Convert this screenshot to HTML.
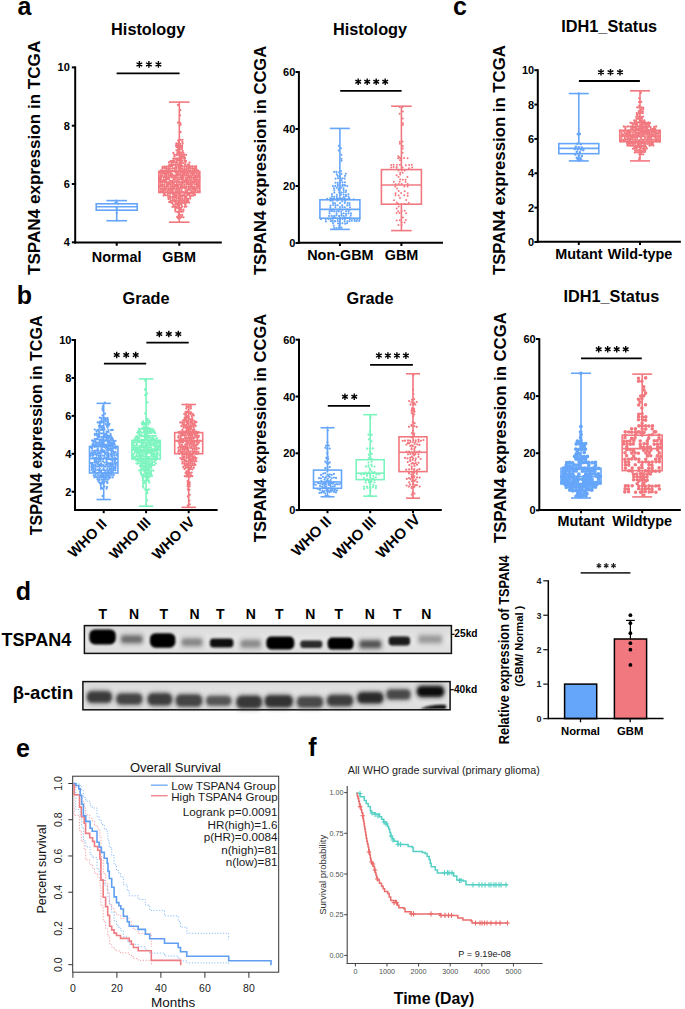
<!DOCTYPE html><html><head><meta charset="utf-8"><style>html,body{margin:0;padding:0;background:#fff;overflow:hidden}svg{display:block}</style></head><body><svg width="685" height="1009" viewBox="0 0 685 1009"><text x="24.5" y="15.0" font-family="Liberation Sans, sans-serif" font-weight="bold" font-size="25" text-anchor="middle" fill="#000" >a</text>
<text x="460.0" y="15.0" font-family="Liberation Sans, sans-serif" font-weight="bold" font-size="25" text-anchor="middle" fill="#000" >c</text>
<text x="24.5" y="303.5" font-family="Liberation Sans, sans-serif" font-weight="bold" font-size="25" text-anchor="middle" fill="#000" >b</text>
<text x="23.5" y="600.0" font-family="Liberation Sans, sans-serif" font-weight="bold" font-size="25" text-anchor="middle" fill="#000" >d</text>
<text x="23.0" y="757.0" font-family="Liberation Sans, sans-serif" font-weight="bold" font-size="25" text-anchor="middle" fill="#000" >e</text>
<text x="312.5" y="756.0" font-family="Liberation Sans, sans-serif" font-weight="bold" font-size="25" text-anchor="middle" fill="#000" >f</text>
<text x="148.2" y="34.7" font-family="Liberation Sans, sans-serif" font-weight="bold" font-size="16.3" text-anchor="middle" fill="#000" >Histology</text>
<text transform="translate(40.1,157.9) rotate(-90)" font-family="Liberation Sans, sans-serif" font-weight="bold" font-size="17.1" text-anchor="middle" fill="#000" >TSPAN4 expression in TCGA</text>
<path d="M116.8 213.2h0M115.4 202.6h0M118.0 203.7h0M116.9 209.2h0M116.7 207.0h0M116.5 207.7h0M116.9 220.4h0M116.4 200.6h0" stroke="#66A6FA" stroke-width="2.2" stroke-linecap="round"/>
<rect x="96.2" y="203.8" width="41.0" height="6.4" fill="none" stroke="#66A6FA" stroke-width="1.6"/>
<line x1="96.20" y1="206.74" x2="137.20" y2="206.74" stroke="#66A6FA" stroke-width="1.6" />
<line x1="116.70" y1="200.62" x2="116.70" y2="203.82" stroke="#66A6FA" stroke-width="1.6" />
<line x1="116.70" y1="210.24" x2="116.70" y2="220.73" stroke="#66A6FA" stroke-width="1.6" />
<line x1="106.40" y1="200.62" x2="127.00" y2="200.62" stroke="#66A6FA" stroke-width="1.6" />
<line x1="106.40" y1="220.73" x2="127.00" y2="220.73" stroke="#66A6FA" stroke-width="1.6" />
<path d="M178.0 105.0h0M180.3 110.1h0M180.0 115.3h0M178.0 122.7h0M180.3 123.1h0M180.6 124.8h0M180.5 132.0h0M178.3 140.3h0M180.3 139.8h0M182.4 139.8h0M178.6 141.7h0M182.3 141.8h0M176.4 143.5h0M178.3 143.9h0M180.0 143.8h0M182.6 143.4h0M176.0 145.5h0M178.1 145.7h0M180.3 145.6h0M182.1 145.7h0M176.5 146.9h0M178.1 147.3h0M180.6 146.9h0M182.0 147.0h0M178.1 149.1h0M180.0 149.3h0M182.0 148.9h0M176.5 150.5h0M178.0 150.8h0M182.6 151.0h0M178.3 152.4h0M180.2 152.3h0M182.6 152.3h0M173.3 152.8h0M177.4 152.9h0M179.3 152.7h0M181.0 152.8h0M183.4 153.0h0M174.3 154.6h0M176.4 155.0h0M178.1 154.7h0M180.0 154.5h0M182.0 155.0h0M184.0 154.6h0M186.1 154.8h0M174.4 156.4h0M180.3 156.6h0M182.0 156.5h0M184.1 156.3h0M173.3 158.7h0M175.2 158.7h0M177.0 158.5h0M179.2 158.6h0M181.0 158.4h0M183.3 158.2h0M185.0 158.2h0M176.5 160.0h0M178.2 160.2h0M180.2 159.9h0M182.0 160.4h0M184.6 160.3h0M170.5 161.2h0M172.2 161.0h0M174.1 161.0h0M176.6 161.2h0M180.2 160.8h0M182.1 160.9h0M184.6 161.1h0M186.0 160.9h0M169.0 162.5h0M171.6 162.9h0M173.2 162.6h0M175.4 162.8h0M177.0 162.8h0M181.0 162.8h0M183.1 163.1h0M185.4 162.7h0M189.4 162.6h0M169.4 164.9h0M171.3 164.6h0M173.4 164.9h0M175.3 164.9h0M177.5 164.7h0M179.5 164.4h0M181.2 164.7h0M185.0 164.6h0M187.6 164.7h0M189.0 164.9h0M162.6 166.8h0M164.5 166.7h0M166.5 166.6h0M168.5 166.2h0M170.3 166.3h0M172.3 166.3h0M176.0 166.5h0M178.4 166.7h0M180.4 166.4h0M182.3 166.2h0M184.5 166.3h0M186.5 166.4h0M188.5 166.8h0M190.1 166.4h0M192.2 166.2h0M194.6 166.4h0M196.2 166.5h0M162.4 168.3h0M164.6 168.0h0M166.2 168.4h0M168.4 168.2h0M170.0 168.4h0M172.3 168.5h0M174.4 168.2h0M176.3 168.1h0M178.6 168.0h0M180.2 168.2h0M182.0 168.3h0M184.3 168.2h0M186.6 168.3h0M188.6 168.2h0M190.1 168.1h0M192.2 168.2h0M194.1 168.5h0M196.2 168.5h0M160.6 170.3h0M162.6 170.5h0M164.6 170.6h0M166.6 170.2h0M168.4 170.2h0M170.1 170.6h0M172.3 170.6h0M174.6 170.0h0M176.2 170.2h0M178.6 170.5h0M180.3 170.1h0M182.2 170.1h0M184.1 170.2h0M186.0 170.0h0M188.1 170.2h0M190.2 170.1h0M192.4 170.2h0M194.5 170.0h0M196.5 170.3h0M198.0 170.3h0M159.5 172.2h0M161.6 172.0h0M163.4 172.0h0M165.4 172.2h0M167.6 172.4h0M169.3 172.0h0M171.0 171.8h0M175.6 172.2h0M177.0 172.0h0M179.0 171.8h0M181.1 171.9h0M183.0 172.4h0M185.0 172.4h0M187.3 172.1h0M189.3 171.8h0M191.6 172.3h0M193.4 172.4h0M195.3 171.8h0M197.0 171.9h0M199.1 172.0h0M160.6 174.1h0M162.6 173.7h0M164.5 174.0h0M166.2 173.8h0M168.2 173.8h0M170.5 173.9h0M172.1 174.1h0M176.4 174.0h0M178.0 173.9h0M180.1 174.0h0M182.4 174.1h0M184.3 173.6h0M186.5 174.1h0M188.0 173.7h0M190.4 173.9h0M192.6 174.2h0M194.3 173.8h0M196.5 174.0h0M198.6 173.9h0M160.5 175.7h0M162.0 175.8h0M164.6 175.5h0M166.3 175.6h0M168.6 175.5h0M170.4 175.9h0M172.3 175.6h0M174.1 175.5h0M176.1 175.7h0M178.2 175.5h0M180.6 175.5h0M182.4 176.0h0M184.2 175.5h0M186.2 175.4h0M188.1 175.6h0M190.1 175.9h0M192.3 175.6h0M194.0 175.8h0M196.1 175.8h0M198.0 175.8h0M159.3 177.7h0M161.1 177.4h0M163.6 177.3h0M165.6 177.6h0M167.3 177.3h0M169.0 177.6h0M171.4 177.4h0M173.6 177.4h0M175.2 177.3h0M177.3 177.7h0M179.6 177.6h0M181.4 177.4h0M183.0 177.5h0M185.5 177.6h0M187.5 177.3h0M189.3 177.2h0M191.2 177.5h0M193.4 177.8h0M195.3 177.2h0M197.3 177.2h0M199.4 177.5h0M159.2 179.6h0M161.0 179.5h0M163.6 179.4h0M165.6 179.3h0M167.0 179.2h0M169.0 179.4h0M173.6 179.0h0M175.4 179.3h0M177.5 179.1h0M179.4 179.6h0M181.4 179.2h0M183.0 179.1h0M185.6 179.2h0M187.0 179.4h0M189.1 179.1h0M191.2 179.3h0M193.4 179.0h0M195.3 179.2h0M197.0 179.2h0M199.2 179.6h0M160.3 181.1h0M162.5 181.2h0M164.4 180.8h0M166.0 181.2h0M170.3 180.9h0M172.3 181.0h0M174.1 181.3h0M176.5 181.2h0M178.2 181.3h0M182.3 181.2h0M184.4 181.0h0M186.3 181.2h0M188.3 181.1h0M190.5 181.0h0M192.6 181.3h0M194.6 180.8h0M196.4 181.1h0M198.6 181.0h0M160.4 182.8h0M162.2 182.7h0M164.4 182.8h0M166.6 183.1h0M168.6 182.9h0M170.4 183.1h0M172.4 183.0h0M174.0 182.9h0M176.6 182.8h0M178.5 182.7h0M180.2 182.6h0M182.2 183.2h0M184.0 182.6h0M186.3 183.0h0M188.2 182.9h0M190.6 183.2h0M192.4 182.7h0M194.1 182.8h0M196.3 183.1h0M198.1 182.9h0M160.5 185.0h0M162.1 184.9h0M164.1 184.8h0M166.6 184.8h0M168.1 184.6h0M170.2 184.5h0M172.4 185.0h0M174.4 184.9h0M176.1 184.8h0M178.0 184.9h0M180.1 184.6h0M182.0 185.0h0M184.3 184.7h0M186.6 184.5h0M188.6 184.7h0M190.0 184.5h0M192.0 184.9h0M194.5 184.6h0M196.6 184.5h0M198.0 184.8h0M160.0 186.4h0M162.1 186.3h0M164.4 186.7h0M166.5 186.3h0M168.0 186.2h0M170.5 186.5h0M172.6 186.8h0M174.2 186.8h0M176.1 186.5h0M178.0 186.6h0M180.6 186.7h0M182.5 186.8h0M184.3 186.4h0M186.4 186.8h0M188.5 186.8h0M190.5 186.3h0M192.3 186.8h0M194.0 186.8h0M196.5 186.3h0M198.0 186.3h0M160.4 188.5h0M162.6 188.4h0M164.1 188.6h0M166.0 188.4h0M168.2 188.5h0M170.1 188.3h0M172.0 188.5h0M174.1 188.4h0M176.4 188.3h0M178.3 188.1h0M180.2 188.0h0M182.2 188.2h0M184.5 188.1h0M186.2 188.1h0M188.6 188.6h0M190.1 188.1h0M192.2 188.2h0M194.2 188.4h0M196.1 188.0h0M198.2 188.2h0M161.1 189.9h0M163.3 190.3h0M165.2 190.1h0M167.5 190.4h0M169.5 190.0h0M171.3 190.2h0M173.0 189.8h0M175.6 190.1h0M177.5 190.1h0M179.4 189.9h0M181.5 190.3h0M185.6 190.4h0M187.6 189.9h0M189.5 189.8h0M191.5 190.2h0M193.5 189.8h0M195.6 190.1h0M197.6 190.3h0M159.6 192.0h0M161.3 191.7h0M163.1 191.6h0M165.2 192.2h0M167.5 191.7h0M169.2 192.2h0M171.3 191.7h0M173.2 192.2h0M175.4 192.2h0M177.2 191.8h0M179.2 192.0h0M181.4 191.8h0M183.1 192.1h0M185.5 192.2h0M187.0 191.8h0M191.5 191.9h0M193.6 192.0h0M195.0 191.6h0M197.5 192.1h0M199.6 191.6h0M164.0 193.6h0M168.0 193.6h0M170.4 193.4h0M172.6 193.8h0M174.3 193.2h0M176.1 193.3h0M178.4 193.6h0M180.6 193.2h0M184.4 193.3h0M186.6 193.3h0M188.5 193.3h0M190.3 193.3h0M192.1 193.2h0M194.3 193.6h0M163.6 195.6h0M165.2 195.0h0M167.4 195.4h0M169.6 195.4h0M173.4 195.0h0M175.4 195.1h0M177.0 195.3h0M179.3 195.1h0M181.2 195.4h0M183.1 195.2h0M185.0 195.4h0M187.2 195.0h0M189.0 195.0h0M191.5 195.6h0M193.1 195.5h0M195.0 195.0h0M168.4 197.3h0M170.5 196.8h0M172.6 197.2h0M174.4 197.0h0M176.1 197.2h0M178.5 196.9h0M180.0 197.1h0M182.0 196.7h0M184.6 197.0h0M186.4 197.2h0M190.2 196.7h0M168.5 199.1h0M170.1 198.7h0M172.5 199.1h0M174.4 199.1h0M176.4 198.6h0M178.3 198.8h0M180.2 199.0h0M182.3 199.0h0M184.4 199.1h0M186.2 198.9h0M188.0 198.9h0M190.2 198.5h0M170.6 200.9h0M172.6 200.8h0M174.4 200.9h0M176.1 200.7h0M178.3 200.8h0M180.0 200.7h0M182.1 200.8h0M184.1 200.8h0M186.3 200.5h0M188.3 200.6h0M169.2 202.1h0M171.1 202.6h0M175.3 202.4h0M177.6 202.7h0M179.2 202.4h0M181.3 202.6h0M183.3 202.6h0M185.1 202.5h0M187.3 202.1h0M189.2 202.6h0M172.4 202.9h0M176.4 202.7h0M178.4 203.3h0M180.0 203.2h0M182.4 202.8h0M184.5 203.0h0M186.4 203.1h0M173.3 204.6h0M175.5 204.7h0M177.4 204.8h0M179.2 204.5h0M181.5 205.0h0M185.2 204.9h0M172.5 206.9h0M174.0 206.4h0M176.1 206.9h0M178.6 206.5h0M182.0 206.7h0M184.6 206.8h0M186.3 206.6h0M175.3 208.0h0M177.3 208.0h0M179.2 208.3h0M181.0 207.9h0M175.2 209.8h0M179.6 210.0h0M181.3 209.8h0M183.6 209.6h0M175.5 211.4h0M177.5 211.9h0M179.5 211.5h0M181.4 211.8h0M183.2 211.4h0M179.0 213.2h0M178.6 215.3h0M180.0 215.1h0M182.2 215.0h0M177.2 216.9h0M179.3 216.8h0M181.5 216.9h0M183.5 217.3h0M178.1 218.3h0M180.1 218.1h0" stroke="#F2787F" stroke-width="2.3" stroke-linecap="round"/>
<rect x="158.8" y="171.5" width="41.0" height="21.0" fill="none" stroke="#F2787F" stroke-width="1.6"/>
<line x1="158.80" y1="181.96" x2="199.80" y2="181.96" stroke="#F2787F" stroke-width="1.6" />
<line x1="179.30" y1="102.09" x2="179.30" y2="171.47" stroke="#F2787F" stroke-width="1.6" />
<line x1="179.30" y1="192.45" x2="179.30" y2="222.19" stroke="#F2787F" stroke-width="1.6" />
<line x1="169.00" y1="102.09" x2="189.60" y2="102.09" stroke="#F2787F" stroke-width="1.6" />
<line x1="169.00" y1="222.19" x2="189.60" y2="222.19" stroke="#F2787F" stroke-width="1.6" />
<line x1="75.20" y1="66.40" x2="75.20" y2="243.60" stroke="#000" stroke-width="2" />
<line x1="74.20" y1="242.60" x2="221.80" y2="242.60" stroke="#000" stroke-width="2" />
<line x1="71.80" y1="67.40" x2="75.20" y2="67.40" stroke="#000" stroke-width="2" />
<text x="69.8" y="71.4" font-family="Liberation Sans, sans-serif" font-weight="bold" font-size="11" text-anchor="end" fill="#000" >10</text>
<line x1="71.80" y1="125.70" x2="75.20" y2="125.70" stroke="#000" stroke-width="2" />
<text x="69.8" y="129.7" font-family="Liberation Sans, sans-serif" font-weight="bold" font-size="11" text-anchor="end" fill="#000" >8</text>
<line x1="71.80" y1="184.00" x2="75.20" y2="184.00" stroke="#000" stroke-width="2" />
<text x="69.8" y="188.0" font-family="Liberation Sans, sans-serif" font-weight="bold" font-size="11" text-anchor="end" fill="#000" >6</text>
<line x1="71.80" y1="242.30" x2="75.20" y2="242.30" stroke="#000" stroke-width="2" />
<text x="69.8" y="246.3" font-family="Liberation Sans, sans-serif" font-weight="bold" font-size="11" text-anchor="end" fill="#000" >4</text>
<line x1="116.70" y1="242.60" x2="116.70" y2="245.80" stroke="#000" stroke-width="2" />
<line x1="179.30" y1="242.60" x2="179.30" y2="245.80" stroke="#000" stroke-width="2" />
<line x1="116.60" y1="73.40" x2="179.60" y2="73.40" stroke="#000" stroke-width="1.8" />
<text x="116.6" y="261.9" font-family="Liberation Sans, sans-serif" font-weight="bold" font-size="14.4" text-anchor="middle" fill="#000" >Normal</text>
<text x="179.1" y="261.9" font-family="Liberation Sans, sans-serif" font-weight="bold" font-size="14.4" text-anchor="middle" fill="#000" >GBM</text>
<text x="370.0" y="34.7" font-family="Liberation Sans, sans-serif" font-weight="bold" font-size="16.3" text-anchor="middle" fill="#000" >Histology</text>
<text transform="translate(265.5,160.4) rotate(-90)" font-family="Liberation Sans, sans-serif" font-weight="bold" font-size="16.6" text-anchor="middle" fill="#000" >TSPAN4 expression in CCGA</text>
<path d="M338.9 145.9h0M341.0 148.3h0M338.7 150.5h0M341.4 154.7h0M341.5 158.7h0M341.6 160.7h0M341.0 171.0h0M334.2 171.9h0M336.4 171.9h0M339.0 172.3h0M336.8 174.4h0M341.4 173.9h0M345.9 173.8h0M337.9 176.1h0M340.0 176.4h0M345.0 175.9h0M335.6 178.6h0M338.0 178.2h0M340.2 178.0h0M342.4 178.4h0M344.6 178.6h0M341.3 180.4h0M335.4 182.8h0M337.7 182.7h0M340.0 182.8h0M342.5 182.2h0M345.0 182.2h0M337.8 184.6h0M342.6 184.8h0M344.6 184.7h0M332.9 186.1h0M335.2 185.9h0M337.8 185.9h0M340.3 185.7h0M342.7 185.9h0M345.1 185.8h0M347.3 186.1h0M334.0 188.3h0M336.7 187.9h0M339.0 188.4h0M341.1 187.8h0M343.5 188.3h0M334.3 190.3h0M338.6 190.1h0M343.6 190.1h0M346.0 190.5h0M334.4 192.6h0M339.2 192.6h0M341.5 192.5h0M343.7 192.2h0M345.9 192.0h0M331.9 194.1h0M336.8 194.7h0M341.0 194.6h0M343.6 194.5h0M346.0 194.7h0M348.4 194.2h0M331.9 196.4h0M334.1 196.7h0M336.7 196.8h0M343.8 196.8h0M345.9 196.3h0M348.4 196.5h0M330.2 198.3h0M332.6 198.9h0M337.7 198.5h0M340.0 198.7h0M342.4 198.4h0M344.6 198.6h0M349.4 198.4h0M327.1 198.9h0M331.7 198.9h0M334.2 198.9h0M336.5 198.8h0M339.0 198.7h0M341.2 199.3h0M346.4 199.2h0M348.5 198.7h0M353.6 199.2h0M330.5 200.7h0M332.6 200.8h0M337.4 200.7h0M342.2 201.2h0M345.1 201.1h0M333.1 203.1h0M335.0 203.3h0M340.0 203.1h0M344.7 202.9h0M347.5 203.0h0M349.6 203.0h0M330.5 205.5h0M333.1 205.0h0M335.5 205.3h0M337.7 205.3h0M342.2 205.4h0M347.3 205.4h0M349.5 205.0h0M330.3 207.4h0M335.4 207.2h0M339.9 207.1h0M342.5 207.2h0M344.8 207.2h0M350.0 207.3h0M330.7 209.6h0M332.9 209.6h0M337.9 209.7h0M339.9 209.2h0M342.6 209.7h0M347.1 209.2h0M349.8 209.7h0M329.6 211.4h0M331.9 211.2h0M334.3 211.4h0M336.6 211.6h0M338.8 211.5h0M341.1 211.6h0M346.1 211.2h0M348.6 211.2h0M329.6 213.5h0M336.6 213.7h0M341.5 213.9h0M343.7 213.3h0M346.0 213.8h0M348.5 213.4h0M351.0 213.4h0M329.0 216.0h0M331.6 215.9h0M334.1 215.8h0M336.4 215.5h0M339.1 215.9h0M341.5 215.6h0M343.6 216.0h0M346.1 215.5h0M350.8 215.6h0M333.1 217.5h0M335.0 217.5h0M339.9 217.6h0M342.7 218.0h0M345.0 217.6h0M347.1 217.8h0M349.5 217.6h0M321.1 219.3h0M325.7 219.1h0M328.4 219.1h0M330.8 219.0h0M333.1 218.7h0M337.7 219.0h0M339.9 219.0h0M342.5 219.1h0M344.9 219.3h0M349.9 219.1h0M352.0 218.8h0M354.5 219.3h0M357.2 219.1h0M359.6 219.1h0M325.9 221.4h0M330.7 221.1h0M332.6 220.8h0M335.1 221.1h0M337.7 221.0h0M340.0 221.1h0M344.7 221.4h0M349.6 221.1h0M351.9 220.8h0M354.7 220.9h0M356.7 220.9h0M359.2 220.9h0M332.7 221.5h0M335.0 221.5h0M337.8 221.2h0M340.0 221.2h0M344.6 221.5h0M347.4 221.4h0M333.1 223.4h0M338.0 223.5h0M339.9 223.8h0M342.4 223.3h0M345.2 223.7h0M347.0 223.3h0M333.8 225.8h0M339.2 225.7h0M334.2 228.1h0M336.4 228.0h0M338.8 227.7h0M341.6 227.6h0" stroke="#66A6FA" stroke-width="2.1" stroke-linecap="round"/>
<rect x="319.9" y="199.8" width="40.0" height="18.4" fill="none" stroke="#66A6FA" stroke-width="1.6"/>
<line x1="319.90" y1="209.37" x2="359.90" y2="209.37" stroke="#66A6FA" stroke-width="1.6" />
<line x1="339.90" y1="128.43" x2="339.90" y2="199.79" stroke="#66A6FA" stroke-width="1.6" />
<line x1="339.90" y1="218.21" x2="339.90" y2="229.41" stroke="#66A6FA" stroke-width="1.6" />
<line x1="329.90" y1="128.43" x2="349.90" y2="128.43" stroke="#66A6FA" stroke-width="1.6" />
<line x1="329.90" y1="229.41" x2="349.90" y2="229.41" stroke="#66A6FA" stroke-width="1.6" />
<path d="M399.6 106.9h0M402.6 106.9h0M402.9 111.4h0M399.6 113.7h0M402.8 118.6h0M403.0 123.2h0M402.9 125.1h0M399.8 141.7h0M402.6 141.6h0M399.9 143.8h0M402.8 145.9h0M402.8 148.6h0M402.6 152.8h0M399.8 157.4h0M400.0 160.2h0M398.3 156.3h0M398.2 158.3h0M401.3 158.6h0M404.1 158.0h0M407.6 158.2h0M391.2 164.9h0M393.6 164.7h0M397.0 164.8h0M399.9 164.8h0M405.9 165.2h0M409.2 165.0h0M411.8 164.7h0M391.2 167.5h0M393.6 167.1h0M396.7 167.1h0M402.6 167.6h0M412.2 167.4h0M396.6 167.8h0M409.0 168.2h0M398.5 170.4h0M401.7 170.6h0M404.7 170.6h0M400.2 172.7h0M402.7 172.7h0M396.6 175.2h0M400.2 174.6h0M398.5 177.1h0M407.4 176.9h0M400.2 179.6h0M402.8 179.7h0M405.6 179.7h0M393.9 181.7h0M399.7 181.8h0M405.6 181.9h0M395.7 184.3h0M398.7 183.9h0M401.6 184.0h0M407.7 183.9h0M395.3 186.4h0M404.3 186.4h0M407.6 186.4h0M397.1 188.6h0M398.7 191.0h0M404.7 191.2h0M395.6 193.2h0M401.1 193.1h0M407.7 193.2h0M395.5 195.3h0M398.7 195.4h0M404.3 195.3h0M407.7 195.8h0M400.0 197.9h0M394.0 200.3h0M406.2 200.1h0M396.7 202.4h0M408.8 202.7h0M398.1 203.8h0M401.5 204.1h0M404.7 204.1h0M398.7 206.6h0M396.7 208.4h0M398.3 211.2h0M401.6 211.0h0M404.7 210.7h0M396.6 212.9h0M399.6 212.9h0M406.2 213.3h0M402.9 217.6h0M396.7 220.4h0M399.8 220.2h0M405.8 220.0h0M401.7 222.2h0M404.6 222.6h0M398.4 224.9h0M401.6 225.0h0" stroke="#F2787F" stroke-width="2.0" stroke-linecap="round"/>
<rect x="381.4" y="169.6" width="40.0" height="34.6" fill="none" stroke="#F2787F" stroke-width="1.6"/>
<line x1="381.40" y1="185.00" x2="421.40" y2="185.00" stroke="#F2787F" stroke-width="1.6" />
<line x1="401.40" y1="106.20" x2="401.40" y2="169.61" stroke="#F2787F" stroke-width="1.6" />
<line x1="401.40" y1="204.24" x2="401.40" y2="230.60" stroke="#F2787F" stroke-width="1.6" />
<line x1="391.10" y1="106.20" x2="411.70" y2="106.20" stroke="#F2787F" stroke-width="1.6" />
<line x1="391.10" y1="230.60" x2="411.70" y2="230.60" stroke="#F2787F" stroke-width="1.6" />
<line x1="298.90" y1="71.10" x2="298.90" y2="243.80" stroke="#000" stroke-width="2" />
<line x1="297.90" y1="242.80" x2="443.00" y2="242.80" stroke="#000" stroke-width="2" />
<line x1="295.50" y1="72.00" x2="298.90" y2="72.00" stroke="#000" stroke-width="2" />
<text x="295.3" y="76.0" font-family="Liberation Sans, sans-serif" font-weight="bold" font-size="11" text-anchor="end" fill="#000" >60</text>
<line x1="295.50" y1="129.00" x2="298.90" y2="129.00" stroke="#000" stroke-width="2" />
<text x="295.3" y="133.0" font-family="Liberation Sans, sans-serif" font-weight="bold" font-size="11" text-anchor="end" fill="#000" >40</text>
<line x1="295.50" y1="186.00" x2="298.90" y2="186.00" stroke="#000" stroke-width="2" />
<text x="295.3" y="190.0" font-family="Liberation Sans, sans-serif" font-weight="bold" font-size="11" text-anchor="end" fill="#000" >20</text>
<line x1="295.50" y1="243.00" x2="298.90" y2="243.00" stroke="#000" stroke-width="2" />
<text x="295.3" y="247.0" font-family="Liberation Sans, sans-serif" font-weight="bold" font-size="11" text-anchor="end" fill="#000" >0</text>
<line x1="339.90" y1="242.80" x2="339.90" y2="246.00" stroke="#000" stroke-width="2" />
<line x1="401.40" y1="242.80" x2="401.40" y2="246.00" stroke="#000" stroke-width="2" />
<line x1="340.20" y1="90.80" x2="401.60" y2="90.80" stroke="#000" stroke-width="1.8" />
<text x="340.4" y="259.8" font-family="Liberation Sans, sans-serif" font-weight="bold" font-size="14.4" text-anchor="middle" fill="#000" >Non-GBM</text>
<text x="401.5" y="259.8" font-family="Liberation Sans, sans-serif" font-weight="bold" font-size="14.4" text-anchor="middle" fill="#000" >GBM</text>
<text x="609.2" y="32.2" font-family="Liberation Sans, sans-serif" font-weight="bold" font-size="16.3" text-anchor="middle" fill="#000" >IDH1_Status</text>
<text transform="translate(504.8,160.1) rotate(-90)" font-family="Liberation Sans, sans-serif" font-weight="bold" font-size="16.8" text-anchor="middle" fill="#000" >TSPAN4 expression in TCGA</text>
<path d="M578.8 93.6h0M578.8 133.8h0M577.8 134.1h0M579.8 134.1h0M577.3 143.7h0M580.8 144.1h0M575.8 146.7h0M578.8 147.2h0M581.8 147.5h0M574.8 148.9h0M577.8 149.2h0M580.8 149.6h0M583.3 150.1h0M576.8 151.8h0M579.8 152.3h0M575.3 154.4h0M578.8 155.2h0M581.8 156.1h0M576.8 157.8h0M580.3 158.2h0M577.8 159.5h0M581.3 159.9h0M578.8 160.6h0" stroke="#66A6FA" stroke-width="2.6" stroke-linecap="round"/>
<rect x="558.8" y="143.6" width="40.0" height="10.1" fill="none" stroke="#66A6FA" stroke-width="1.6"/>
<line x1="558.80" y1="148.37" x2="598.80" y2="148.37" stroke="#66A6FA" stroke-width="1.6" />
<line x1="578.80" y1="93.56" x2="578.80" y2="143.56" stroke="#66A6FA" stroke-width="1.6" />
<line x1="578.80" y1="153.69" x2="578.80" y2="160.91" stroke="#66A6FA" stroke-width="1.6" />
<line x1="568.80" y1="93.56" x2="588.80" y2="93.56" stroke="#66A6FA" stroke-width="1.6" />
<line x1="568.80" y1="160.91" x2="588.80" y2="160.91" stroke="#66A6FA" stroke-width="1.6" />
<path d="M640.8 92.9h0M639.3 98.4h0M639.1 102.0h0M641.3 101.9h0M639.3 105.6h0M638.9 107.3h0M641.4 107.3h0M637.2 107.4h0M643.2 107.6h0M641.0 109.4h0M643.2 109.0h0M638.8 111.2h0M640.9 111.1h0M642.9 111.4h0M636.8 113.1h0M639.0 113.2h0M641.0 112.8h0M642.8 113.2h0M637.0 114.9h0M639.4 114.5h0M637.4 116.5h0M643.1 116.6h0M636.3 116.8h0M638.3 116.8h0M639.8 117.1h0M641.9 117.0h0M636.4 118.9h0M638.1 118.8h0M640.0 118.7h0M642.0 118.9h0M634.2 120.5h0M636.1 120.8h0M639.8 120.6h0M641.8 120.8h0M644.3 120.5h0M634.9 122.7h0M637.0 122.6h0M639.1 122.4h0M641.0 122.2h0M643.2 122.2h0M644.8 122.1h0M630.4 122.8h0M631.8 122.9h0M634.2 123.0h0M636.4 122.7h0M638.3 122.4h0M642.1 122.9h0M643.9 122.8h0M646.3 123.0h0M648.4 122.4h0M649.9 123.0h0M632.8 124.7h0M635.1 124.2h0M637.0 124.2h0M641.4 124.6h0M642.8 124.7h0M645.1 124.5h0M646.8 124.2h0M648.8 124.5h0M630.9 126.3h0M632.9 126.1h0M635.4 126.2h0M637.0 126.1h0M639.3 126.3h0M641.0 126.2h0M643.0 126.6h0M645.2 126.5h0M647.3 126.2h0M649.4 126.1h0M623.8 126.5h0M625.8 126.9h0M628.0 126.5h0M630.3 126.6h0M632.4 126.7h0M634.3 127.1h0M636.2 126.5h0M638.4 126.5h0M642.2 127.0h0M644.0 126.8h0M646.4 127.0h0M647.9 126.9h0M650.3 127.0h0M654.2 127.0h0M656.2 126.5h0M625.4 128.3h0M631.3 128.3h0M632.8 128.3h0M635.3 128.3h0M636.9 128.3h0M638.9 128.9h0M641.2 128.6h0M643.1 128.4h0M645.4 128.4h0M647.3 128.7h0M651.1 128.3h0M653.1 128.9h0M655.2 128.8h0M625.4 130.2h0M629.3 130.3h0M630.8 130.3h0M633.0 130.1h0M634.8 130.5h0M637.4 130.1h0M638.8 130.7h0M641.1 130.7h0M643.3 130.4h0M645.4 130.6h0M647.4 130.5h0M648.8 130.1h0M651.2 130.6h0M653.1 130.1h0M655.3 130.1h0M619.8 130.7h0M622.3 131.1h0M623.9 130.9h0M626.3 130.8h0M628.2 130.8h0M630.2 131.0h0M634.4 130.6h0M636.4 130.5h0M639.8 130.6h0M642.0 130.9h0M644.3 130.7h0M645.9 130.9h0M648.0 130.5h0M650.3 130.5h0M651.8 131.1h0M654.2 130.8h0M655.8 130.9h0M658.4 131.1h0M659.9 130.8h0M621.4 132.6h0M624.8 132.8h0M627.2 132.3h0M629.1 132.6h0M630.8 132.3h0M633.0 132.4h0M635.3 132.7h0M636.9 132.8h0M638.8 132.9h0M640.9 132.4h0M642.9 132.5h0M645.0 132.7h0M647.1 132.7h0M649.2 132.4h0M651.4 132.6h0M653.3 132.4h0M655.4 132.5h0M657.0 132.9h0M659.4 132.4h0M622.0 134.5h0M623.8 134.1h0M626.1 134.2h0M627.8 134.2h0M630.0 134.5h0M632.3 134.6h0M634.1 134.6h0M635.9 134.1h0M638.1 134.7h0M640.3 134.5h0M642.4 134.1h0M643.8 134.1h0M646.1 134.1h0M647.9 134.1h0M649.8 134.2h0M652.0 134.5h0M654.1 134.3h0M655.9 134.2h0M658.2 134.1h0M622.1 136.3h0M624.2 136.0h0M626.3 136.1h0M628.2 135.9h0M630.4 136.1h0M631.9 136.5h0M634.0 136.3h0M636.4 136.1h0M638.0 136.3h0M639.8 136.5h0M642.2 136.3h0M644.0 136.2h0M648.4 136.3h0M650.2 136.3h0M652.4 136.2h0M654.0 136.5h0M655.8 136.3h0M658.0 136.3h0M621.3 138.1h0M624.9 138.2h0M627.4 138.1h0M628.9 138.2h0M630.8 138.2h0M632.8 137.7h0M635.1 138.0h0M637.1 137.8h0M640.8 137.8h0M645.0 137.9h0M647.3 138.1h0M648.9 138.2h0M651.1 137.8h0M655.4 138.1h0M656.8 138.3h0M658.8 137.7h0M620.9 140.1h0M623.1 139.8h0M625.2 139.8h0M627.3 139.5h0M629.1 139.7h0M630.8 139.5h0M632.9 139.6h0M635.2 139.9h0M637.1 139.8h0M639.4 140.1h0M641.2 139.6h0M642.9 139.7h0M644.8 139.8h0M646.9 139.8h0M649.2 139.7h0M651.0 139.7h0M653.0 139.6h0M655.2 139.9h0M657.1 139.9h0M658.8 139.8h0M620.9 141.5h0M623.3 141.3h0M625.0 141.3h0M627.4 141.9h0M629.3 141.3h0M630.8 141.7h0M633.4 141.7h0M634.9 141.7h0M636.8 141.9h0M639.0 141.5h0M641.3 141.8h0M643.1 141.8h0M645.2 141.8h0M647.1 141.4h0M648.9 141.5h0M651.3 141.4h0M653.3 141.6h0M655.3 141.3h0M657.0 141.6h0M659.4 141.7h0M627.0 142.0h0M628.9 142.3h0M631.4 141.9h0M632.8 142.0h0M635.2 142.1h0M636.8 142.3h0M639.2 142.2h0M640.8 142.1h0M642.8 141.7h0M645.2 142.1h0M647.2 141.8h0M648.8 142.1h0M651.4 141.8h0M653.0 142.3h0M627.2 144.0h0M629.3 143.7h0M630.8 143.7h0M632.9 143.8h0M634.9 143.9h0M637.4 143.7h0M639.0 143.9h0M641.4 143.6h0M643.4 143.6h0M645.1 144.0h0M647.3 143.9h0M649.4 143.6h0M651.1 143.5h0M652.9 144.1h0M627.4 145.4h0M628.9 145.7h0M631.0 145.8h0M632.8 145.5h0M635.3 145.9h0M637.4 145.7h0M638.8 145.6h0M641.3 145.6h0M643.3 145.9h0M645.2 145.9h0M649.4 145.5h0M651.0 145.3h0M653.3 145.5h0M633.9 146.7h0M636.0 147.0h0M638.3 146.8h0M640.0 147.1h0M642.0 146.6h0M643.8 146.9h0M646.0 146.8h0M632.9 148.8h0M634.9 148.6h0M636.9 148.3h0M640.9 148.3h0M643.1 148.9h0M644.8 148.8h0M646.9 148.4h0M635.2 150.5h0M637.3 150.3h0M638.9 150.1h0M640.9 150.7h0M643.2 150.1h0M645.3 150.5h0M634.8 152.5h0M637.0 152.2h0M639.3 151.9h0M640.8 152.5h0M642.8 151.9h0M644.8 152.0h0M637.1 152.4h0M639.4 152.5h0M641.3 152.5h0M639.4 154.3h0M641.0 154.3h0M643.2 154.4h0M639.4 157.8h0M639.2 159.6h0" stroke="#F2787F" stroke-width="2.3" stroke-linecap="round"/>
<rect x="619.8" y="130.3" width="40.4" height="11.3" fill="none" stroke="#F2787F" stroke-width="1.6"/>
<line x1="619.80" y1="136.00" x2="660.20" y2="136.00" stroke="#F2787F" stroke-width="1.6" />
<line x1="640.00" y1="90.82" x2="640.00" y2="130.33" stroke="#F2787F" stroke-width="1.6" />
<line x1="640.00" y1="141.67" x2="640.00" y2="160.91" stroke="#F2787F" stroke-width="1.6" />
<line x1="630.00" y1="90.82" x2="650.00" y2="90.82" stroke="#F2787F" stroke-width="1.6" />
<line x1="630.00" y1="160.91" x2="650.00" y2="160.91" stroke="#F2787F" stroke-width="1.6" />
<line x1="537.80" y1="69.20" x2="537.80" y2="242.80" stroke="#000" stroke-width="2" />
<line x1="536.80" y1="241.80" x2="680.90" y2="241.80" stroke="#000" stroke-width="2" />
<line x1="534.40" y1="70.20" x2="537.80" y2="70.20" stroke="#000" stroke-width="2" />
<text x="534.2" y="74.2" font-family="Liberation Sans, sans-serif" font-weight="bold" font-size="11" text-anchor="end" fill="#000" >10</text>
<line x1="534.40" y1="104.56" x2="537.80" y2="104.56" stroke="#000" stroke-width="2" />
<text x="534.2" y="108.6" font-family="Liberation Sans, sans-serif" font-weight="bold" font-size="11" text-anchor="end" fill="#000" >8</text>
<line x1="534.40" y1="138.92" x2="537.80" y2="138.92" stroke="#000" stroke-width="2" />
<text x="534.2" y="142.9" font-family="Liberation Sans, sans-serif" font-weight="bold" font-size="11" text-anchor="end" fill="#000" >6</text>
<line x1="534.40" y1="173.28" x2="537.80" y2="173.28" stroke="#000" stroke-width="2" />
<text x="534.2" y="177.3" font-family="Liberation Sans, sans-serif" font-weight="bold" font-size="11" text-anchor="end" fill="#000" >4</text>
<line x1="534.40" y1="207.64" x2="537.80" y2="207.64" stroke="#000" stroke-width="2" />
<text x="534.2" y="211.6" font-family="Liberation Sans, sans-serif" font-weight="bold" font-size="11" text-anchor="end" fill="#000" >2</text>
<line x1="534.40" y1="242.00" x2="537.80" y2="242.00" stroke="#000" stroke-width="2" />
<text x="534.2" y="246.0" font-family="Liberation Sans, sans-serif" font-weight="bold" font-size="11" text-anchor="end" fill="#000" >0</text>
<line x1="578.80" y1="241.80" x2="578.80" y2="245.00" stroke="#000" stroke-width="2" />
<line x1="640.00" y1="241.80" x2="640.00" y2="245.00" stroke="#000" stroke-width="2" />
<line x1="578.90" y1="81.00" x2="639.90" y2="81.00" stroke="#000" stroke-width="1.8" />
<text x="578.9" y="259.0" font-family="Liberation Sans, sans-serif" font-weight="bold" font-size="14.4" text-anchor="middle" fill="#000" >Mutant</text>
<text x="640.0" y="259.0" font-family="Liberation Sans, sans-serif" font-weight="bold" font-size="14.4" text-anchor="middle" fill="#000" >Wild-type</text>
<text x="146.1" y="304.2" font-family="Liberation Sans, sans-serif" font-weight="bold" font-size="16.3" text-anchor="middle" fill="#000" >Grade</text>
<text transform="translate(41.8,425.4) rotate(-90)" font-family="Liberation Sans, sans-serif" font-weight="bold" font-size="16.05" text-anchor="middle" fill="#000" >TSPAN4 expression in TCGA</text>
<path d="M104.9 402.7h0M102.8 406.3h0M102.5 408.3h0M102.6 410.3h0M105.0 413.7h0M102.5 415.5h0M99.8 417.7h0M101.5 418.1h0M103.6 418.1h0M105.6 418.2h0M107.6 418.1h0M101.6 420.1h0M103.7 420.0h0M105.7 419.5h0M107.9 419.9h0M99.9 421.7h0M101.7 421.8h0M105.9 421.3h0M107.9 421.9h0M97.7 422.4h0M99.7 422.1h0M101.4 422.5h0M103.6 422.2h0M107.7 422.3h0M99.7 424.0h0M105.5 423.9h0M107.7 424.2h0M109.4 424.0h0M99.1 426.0h0M100.8 426.0h0M103.0 426.1h0M106.7 425.8h0M108.8 425.6h0M99.5 427.6h0M101.4 427.5h0M103.7 427.4h0M107.5 427.5h0M98.5 429.7h0M102.7 429.2h0M104.6 429.3h0M108.4 429.8h0M94.8 429.7h0M97.1 430.3h0M98.6 429.9h0M100.9 430.0h0M102.6 429.8h0M111.0 430.2h0M112.8 429.9h0M96.6 431.6h0M99.1 431.8h0M106.6 431.6h0M108.5 431.9h0M94.9 433.8h0M96.9 433.9h0M98.9 433.6h0M101.0 433.5h0M103.1 433.5h0M105.1 433.8h0M106.5 433.4h0M110.5 433.8h0M94.8 435.1h0M97.1 435.5h0M99.1 435.4h0M104.6 435.3h0M106.8 435.2h0M108.5 435.7h0M110.7 435.5h0M97.8 437.2h0M99.7 437.0h0M102.0 437.0h0M103.9 437.2h0M105.8 437.2h0M107.5 437.2h0M109.6 437.4h0M111.8 437.4h0M94.8 439.0h0M96.9 439.0h0M98.7 439.3h0M101.0 439.3h0M102.8 439.3h0M106.5 439.0h0M108.6 438.7h0M110.9 439.3h0M112.9 439.1h0M100.1 440.7h0M102.1 441.0h0M103.7 440.8h0M105.5 440.7h0M107.4 440.8h0M109.4 440.7h0M111.8 440.5h0M92.1 440.5h0M93.4 441.0h0M95.5 440.7h0M99.6 440.6h0M103.9 440.5h0M105.9 440.7h0M108.1 440.9h0M109.5 441.0h0M112.0 440.8h0M113.8 441.1h0M115.5 440.8h0M93.5 442.3h0M95.6 442.5h0M97.6 442.6h0M99.6 442.3h0M101.4 442.8h0M103.5 442.6h0M108.0 442.6h0M110.0 442.5h0M111.9 442.9h0M114.0 442.7h0M92.6 444.1h0M94.4 444.6h0M96.5 444.1h0M99.0 444.5h0M100.6 444.3h0M102.5 444.4h0M105.1 444.7h0M106.6 444.7h0M108.6 444.1h0M110.7 444.4h0M112.8 444.1h0M114.5 444.3h0M92.6 444.8h0M94.8 445.2h0M96.9 445.3h0M98.6 445.3h0M100.9 445.1h0M103.0 445.3h0M104.9 445.2h0M106.8 445.0h0M109.0 445.2h0M111.0 445.1h0M112.6 444.7h0M114.7 444.7h0M90.8 446.9h0M92.7 446.5h0M94.9 446.8h0M96.9 446.5h0M98.6 446.5h0M100.9 446.6h0M103.1 446.8h0M104.7 446.9h0M106.8 446.9h0M108.5 446.6h0M110.6 446.8h0M112.4 446.6h0M114.9 446.9h0M116.8 446.8h0M92.0 448.4h0M97.7 448.8h0M101.6 448.4h0M105.8 448.3h0M108.1 448.3h0M109.8 448.9h0M111.6 448.9h0M113.4 448.3h0M115.7 448.5h0M92.6 450.6h0M94.9 450.6h0M97.0 450.5h0M98.6 450.3h0M101.1 450.5h0M102.7 450.2h0M104.5 450.6h0M107.1 450.2h0M108.8 450.2h0M111.1 450.7h0M112.8 450.7h0M91.4 452.4h0M93.9 452.3h0M95.4 452.5h0M97.7 452.1h0M99.9 452.5h0M101.9 452.1h0M103.7 452.0h0M105.5 452.5h0M107.6 452.5h0M111.5 452.0h0M113.6 451.9h0M115.6 452.2h0M90.7 453.9h0M92.7 453.9h0M94.6 454.3h0M96.8 454.1h0M98.6 453.8h0M100.7 454.0h0M105.0 453.7h0M106.9 454.3h0M108.8 453.7h0M111.0 454.2h0M113.1 453.8h0M114.5 454.0h0M117.1 454.2h0M90.7 455.8h0M92.9 455.6h0M96.6 455.5h0M98.8 455.9h0M100.4 455.8h0M102.7 455.6h0M104.4 455.7h0M107.1 455.9h0M108.7 455.6h0M111.1 455.9h0M112.4 455.8h0M114.7 455.6h0M117.0 455.6h0M92.7 457.7h0M95.0 457.8h0M96.5 457.9h0M99.0 457.4h0M100.9 457.5h0M104.5 457.4h0M106.9 457.9h0M108.7 457.4h0M112.4 457.3h0M115.0 457.9h0M94.5 459.7h0M96.4 459.5h0M98.7 459.3h0M100.4 459.2h0M103.1 459.1h0M106.6 459.6h0M108.7 459.1h0M110.7 459.7h0M112.7 459.7h0M114.7 459.6h0M116.4 459.1h0M94.9 461.5h0M96.6 461.5h0M98.6 461.4h0M100.6 460.9h0M103.0 461.3h0M106.6 461.2h0M112.6 461.2h0M115.0 461.0h0M91.0 463.2h0M92.6 462.9h0M94.9 462.7h0M96.9 462.8h0M98.4 463.0h0M101.1 463.3h0M104.5 462.7h0M106.9 463.0h0M108.7 463.1h0M110.9 463.2h0M112.5 463.2h0M114.8 462.9h0M116.5 462.8h0M92.0 464.9h0M93.7 465.1h0M95.6 465.0h0M98.1 464.5h0M100.0 465.0h0M101.4 464.7h0M103.5 465.1h0M106.1 464.7h0M107.7 464.6h0M110.1 464.5h0M111.8 464.6h0M113.5 464.6h0M115.8 464.9h0M91.6 466.7h0M93.6 466.4h0M95.8 466.3h0M97.7 466.6h0M99.5 466.4h0M101.7 466.4h0M104.1 466.5h0M105.7 466.5h0M108.1 466.5h0M109.9 466.4h0M112.0 466.5h0M113.7 466.9h0M115.5 466.3h0M92.0 468.1h0M93.7 468.4h0M95.6 468.4h0M99.7 468.6h0M103.5 468.7h0M107.4 468.7h0M110.0 468.5h0M111.5 468.6h0M113.7 468.6h0M115.5 468.2h0M91.7 469.9h0M93.9 470.5h0M95.8 470.4h0M98.0 469.9h0M99.8 470.3h0M101.7 470.3h0M103.9 470.2h0M105.4 470.3h0M107.6 470.4h0M109.7 470.0h0M111.5 469.9h0M113.5 470.2h0M115.4 470.3h0M92.9 472.0h0M94.8 471.9h0M99.0 472.3h0M101.0 471.8h0M105.1 472.3h0M107.0 472.3h0M108.6 472.2h0M111.0 471.8h0M112.5 472.0h0M95.8 473.4h0M97.5 473.3h0M102.0 473.3h0M103.5 473.5h0M105.7 473.8h0M107.8 473.8h0M110.1 473.6h0M112.0 473.3h0M93.7 475.5h0M95.5 475.5h0M98.0 475.1h0M100.1 475.4h0M101.6 475.0h0M103.5 475.4h0M105.8 475.6h0M107.6 475.4h0M109.4 475.2h0M111.7 475.1h0M113.8 475.1h0M94.5 477.4h0M96.5 476.8h0M99.0 477.3h0M100.6 476.8h0M102.8 477.0h0M104.7 477.4h0M106.6 477.4h0M108.8 477.0h0M110.4 477.3h0M112.8 477.4h0M97.8 477.9h0M100.0 477.7h0M101.6 477.6h0M105.9 477.6h0M109.7 478.1h0M97.5 479.5h0M99.6 479.9h0M102.0 479.8h0M103.8 479.7h0M105.8 479.5h0M108.1 479.5h0M98.6 481.7h0M102.6 481.8h0M104.6 481.8h0M106.9 481.6h0M100.0 483.3h0M101.8 483.2h0M103.8 483.0h0M107.4 483.0h0M100.5 483.0h0M102.9 483.4h0M100.8 485.0h0M101.0 487.2h0M104.5 486.6h0M107.0 487.1h0M101.0 488.8h0M102.5 488.4h0M106.6 488.6h0M102.6 488.6h0M102.7 496.0h0" stroke="#66A6FA" stroke-width="2.3" stroke-linecap="round"/>
<rect x="89.5" y="446.4" width="28.4" height="26.6" fill="none" stroke="#66A6FA" stroke-width="1.6"/>
<line x1="89.50" y1="458.56" x2="117.90" y2="458.56" stroke="#66A6FA" stroke-width="1.6" />
<line x1="103.70" y1="403.36" x2="103.70" y2="446.42" stroke="#66A6FA" stroke-width="1.6" />
<line x1="103.70" y1="472.98" x2="103.70" y2="499.54" stroke="#66A6FA" stroke-width="1.6" />
<line x1="96.50" y1="403.36" x2="110.90" y2="403.36" stroke="#66A6FA" stroke-width="1.6" />
<line x1="96.50" y1="499.54" x2="110.90" y2="499.54" stroke="#66A6FA" stroke-width="1.6" />
<path d="M145.2 380.5h0M144.9 389.5h0M146.9 393.7h0M145.2 395.1h0M147.4 402.4h0M145.2 413.3h0M146.2 419.1h0M147.8 419.2h0M143.0 421.3h0M147.0 420.9h0M149.4 420.9h0M141.8 423.1h0M143.9 422.9h0M146.0 422.9h0M148.2 422.8h0M149.8 422.6h0M142.3 424.7h0M144.4 424.4h0M145.8 424.6h0M148.3 424.6h0M143.9 426.8h0M146.4 426.7h0M142.4 428.3h0M144.2 428.3h0M145.9 428.0h0M148.1 428.0h0M150.3 428.5h0M139.0 428.9h0M141.1 428.8h0M143.2 429.2h0M145.0 429.1h0M147.4 429.3h0M149.2 428.9h0M151.1 429.3h0M152.8 429.2h0M138.4 431.2h0M140.0 430.9h0M144.4 431.1h0M146.2 431.2h0M148.0 431.1h0M150.0 431.2h0M152.0 430.8h0M154.3 431.0h0M137.3 432.8h0M139.0 432.7h0M141.3 432.5h0M143.3 432.5h0M144.8 432.9h0M147.0 432.9h0M148.9 433.0h0M151.0 433.0h0M153.3 432.5h0M155.2 432.9h0M139.3 434.4h0M141.3 434.8h0M144.8 434.6h0M146.8 434.5h0M136.4 436.2h0M137.8 436.4h0M140.2 436.0h0M142.3 436.3h0M144.0 436.0h0M146.0 436.1h0M148.3 436.0h0M149.9 436.0h0M152.3 435.8h0M154.0 435.9h0M155.8 435.8h0M135.3 437.9h0M137.4 438.1h0M139.1 438.2h0M145.0 437.8h0M147.3 437.6h0M149.2 438.0h0M151.4 438.0h0M153.4 438.0h0M157.0 438.1h0M135.2 439.7h0M137.3 439.7h0M141.4 439.6h0M143.1 439.9h0M145.2 439.4h0M146.8 439.6h0M151.2 439.8h0M153.2 439.4h0M155.2 439.4h0M134.4 440.1h0M138.2 440.5h0M142.4 440.5h0M143.9 440.2h0M146.0 440.3h0M148.0 440.5h0M149.8 440.5h0M152.0 440.1h0M154.0 440.3h0M156.0 440.5h0M158.3 440.6h0M133.3 442.1h0M135.1 442.3h0M137.2 442.1h0M139.3 442.1h0M141.1 442.2h0M143.1 442.3h0M144.9 442.4h0M147.3 442.4h0M149.2 442.0h0M150.9 441.9h0M153.3 442.0h0M155.4 442.4h0M157.2 442.3h0M159.3 442.1h0M133.4 443.7h0M137.1 444.0h0M141.4 444.3h0M142.9 443.8h0M145.4 444.1h0M147.2 444.1h0M149.2 443.8h0M150.8 444.0h0M152.9 443.9h0M154.9 444.0h0M157.0 443.8h0M159.2 443.8h0M133.4 446.0h0M135.3 445.7h0M136.8 445.7h0M139.4 445.9h0M141.4 446.1h0M143.2 445.8h0M145.3 445.9h0M146.9 445.6h0M149.2 445.6h0M151.1 445.6h0M153.4 445.5h0M155.2 446.0h0M157.0 446.0h0M159.0 446.0h0M133.2 447.6h0M135.4 447.9h0M137.3 447.9h0M139.1 447.5h0M141.2 447.7h0M143.4 447.4h0M144.9 447.7h0M147.0 447.5h0M149.1 447.4h0M151.3 447.7h0M155.1 447.6h0M157.4 447.6h0M159.2 447.6h0M134.1 449.4h0M135.9 449.1h0M138.1 449.5h0M140.3 449.4h0M144.1 449.2h0M146.3 449.7h0M148.1 449.5h0M149.9 449.7h0M152.3 449.5h0M154.2 449.2h0M156.2 449.5h0M157.9 449.1h0M135.1 451.2h0M137.1 451.4h0M139.0 450.9h0M141.2 451.3h0M143.0 451.1h0M144.9 451.2h0M146.8 451.4h0M148.8 451.2h0M151.1 451.3h0M153.3 451.2h0M155.0 450.9h0M156.9 451.2h0M134.2 453.3h0M136.4 452.7h0M138.4 452.9h0M140.1 453.0h0M142.4 452.9h0M144.4 453.1h0M145.9 453.2h0M147.9 452.9h0M150.0 453.0h0M151.8 453.0h0M154.0 453.2h0M156.4 453.3h0M157.8 453.0h0M133.0 455.0h0M136.8 454.9h0M139.1 455.1h0M140.8 455.0h0M142.8 455.0h0M145.4 455.0h0M147.0 454.5h0M151.4 454.8h0M153.2 454.7h0M154.8 454.7h0M156.9 455.1h0M159.4 454.8h0M133.2 456.9h0M135.4 456.7h0M136.8 456.4h0M139.1 456.7h0M141.0 456.3h0M143.2 456.3h0M145.3 456.8h0M146.9 456.8h0M149.0 456.9h0M151.4 456.3h0M153.4 456.7h0M155.4 456.7h0M157.3 456.6h0M133.0 458.7h0M134.8 458.5h0M137.4 458.7h0M139.2 458.4h0M141.2 458.1h0M142.8 458.3h0M145.4 458.2h0M147.1 458.2h0M149.0 458.6h0M151.2 458.7h0M153.3 458.1h0M155.0 458.7h0M157.0 458.5h0M136.2 460.3h0M138.0 460.0h0M140.0 460.1h0M141.9 460.0h0M144.1 459.8h0M146.4 460.4h0M147.9 460.3h0M149.9 459.8h0M152.0 460.1h0M154.4 459.8h0M155.8 460.2h0M138.2 461.9h0M140.4 461.6h0M142.3 462.0h0M143.8 461.7h0M145.8 462.2h0M148.2 462.2h0M149.9 461.8h0M152.1 462.2h0M154.2 461.8h0M136.4 463.6h0M138.1 463.4h0M140.3 463.6h0M141.9 463.9h0M144.0 463.4h0M146.4 463.8h0M147.8 464.0h0M150.2 463.8h0M152.1 464.0h0M155.8 463.5h0M140.0 465.7h0M141.9 465.2h0M144.0 465.7h0M146.1 465.3h0M148.4 465.2h0M150.0 465.4h0M152.0 465.5h0M154.1 465.2h0M141.0 467.0h0M143.3 466.8h0M145.1 467.2h0M146.8 466.8h0M148.9 467.1h0M150.8 467.1h0M141.4 468.9h0M143.0 468.7h0M145.0 469.1h0M147.3 468.7h0M148.9 468.7h0M151.4 468.6h0M139.4 470.5h0M141.2 470.6h0M143.4 470.6h0M145.2 470.9h0M147.3 470.6h0M149.1 470.4h0M151.2 471.0h0M153.4 470.6h0M140.8 472.6h0M144.8 472.6h0M147.1 472.7h0M149.0 472.4h0M150.8 472.7h0M141.0 474.0h0M143.2 474.4h0M145.4 474.1h0M147.1 474.2h0M149.3 474.3h0M151.2 474.2h0M142.1 476.2h0M143.8 475.8h0M146.2 475.9h0M148.0 475.9h0M150.4 476.3h0M152.0 475.8h0M143.1 476.9h0M145.4 476.9h0M147.1 477.3h0M149.1 477.3h0M143.0 478.7h0M147.4 478.9h0M142.8 480.5h0M145.1 480.7h0M147.4 480.4h0M148.8 480.5h0M143.3 482.3h0M145.0 482.6h0M149.2 482.4h0M143.3 484.0h0M142.9 486.1h0M143.4 487.6h0M145.2 489.4h0M148.9 489.3h0M147.2 489.9h0M147.1 491.1h0M147.4 493.2h0M147.1 500.4h0" stroke="#7CF4BE" stroke-width="2.3" stroke-linecap="round"/>
<rect x="131.9" y="440.4" width="28.4" height="18.6" fill="none" stroke="#7CF4BE" stroke-width="1.6"/>
<line x1="131.90" y1="450.03" x2="160.30" y2="450.03" stroke="#7CF4BE" stroke-width="1.6" />
<line x1="146.10" y1="378.89" x2="146.10" y2="440.35" stroke="#7CF4BE" stroke-width="1.6" />
<line x1="146.10" y1="458.94" x2="146.10" y2="506.18" stroke="#7CF4BE" stroke-width="1.6" />
<line x1="138.90" y1="378.89" x2="153.30" y2="378.89" stroke="#7CF4BE" stroke-width="1.6" />
<line x1="138.90" y1="506.18" x2="153.30" y2="506.18" stroke="#7CF4BE" stroke-width="1.6" />
<path d="M186.5 404.7h0M190.6 405.3h0M186.6 406.9h0M188.5 406.9h0M190.8 406.6h0M186.3 408.6h0M190.8 408.5h0M188.5 410.5h0M186.3 412.0h0M188.4 412.4h0M190.9 412.5h0M185.6 411.9h0M187.9 411.9h0M189.3 412.3h0M184.3 414.0h0M186.3 414.0h0M190.5 414.1h0M192.7 413.8h0M185.6 415.9h0M187.4 416.1h0M191.7 416.1h0M193.7 415.5h0M184.7 417.8h0M186.5 417.9h0M188.6 417.5h0M192.3 417.8h0M184.4 419.4h0M186.3 419.5h0M188.8 419.1h0M190.8 419.4h0M192.4 419.6h0M182.9 420.6h0M184.9 420.6h0M186.4 420.9h0M188.3 421.0h0M190.9 421.0h0M192.3 420.4h0M194.5 420.8h0M180.3 422.5h0M182.3 422.5h0M184.3 422.5h0M186.8 422.4h0M188.4 422.7h0M190.9 422.5h0M192.3 422.5h0M194.7 422.2h0M196.4 422.2h0M182.6 424.2h0M184.6 424.6h0M186.9 424.0h0M190.6 424.3h0M192.9 424.0h0M194.6 424.2h0M181.3 426.2h0M183.6 426.2h0M185.7 426.0h0M187.4 426.3h0M189.7 426.4h0M191.7 426.2h0M193.5 425.8h0M195.7 425.9h0M183.6 427.9h0M185.8 427.8h0M187.3 428.2h0M189.9 428.2h0M191.3 427.8h0M193.8 427.7h0M182.3 430.0h0M186.8 429.7h0M188.5 429.8h0M190.4 429.7h0M192.6 430.0h0M194.3 429.9h0M183.8 431.6h0M185.3 431.3h0M187.8 431.8h0M189.9 431.8h0M191.9 431.8h0M193.5 431.3h0M178.5 432.1h0M180.4 431.7h0M182.7 431.9h0M184.4 431.8h0M186.4 431.9h0M188.7 432.0h0M190.7 431.8h0M192.7 432.1h0M194.8 431.7h0M196.5 431.6h0M198.6 432.2h0M179.6 433.4h0M181.4 433.7h0M183.3 434.0h0M185.4 433.5h0M187.8 434.0h0M189.5 434.0h0M191.3 433.8h0M193.4 433.6h0M195.4 433.8h0M197.6 433.4h0M178.6 435.8h0M180.9 435.7h0M182.4 435.5h0M184.4 435.4h0M186.5 435.6h0M188.9 435.2h0M190.8 435.6h0M192.3 435.3h0M194.9 435.3h0M196.7 435.4h0M198.9 435.8h0M178.3 437.5h0M180.6 437.4h0M184.9 437.6h0M186.5 437.6h0M188.9 437.1h0M190.9 437.3h0M192.9 437.1h0M194.8 437.4h0M196.8 437.1h0M198.5 437.0h0M179.6 439.4h0M181.4 438.9h0M183.4 439.2h0M185.7 439.3h0M187.9 438.9h0M189.9 439.0h0M191.6 438.9h0M193.7 438.8h0M197.4 439.2h0M177.3 440.7h0M179.6 440.8h0M181.4 440.6h0M183.3 440.8h0M185.4 441.0h0M187.5 441.0h0M189.9 440.9h0M191.8 440.7h0M193.3 441.1h0M195.5 440.9h0M197.3 441.0h0M199.9 440.6h0M178.8 442.6h0M180.9 442.6h0M182.9 442.4h0M186.6 442.6h0M188.6 442.9h0M190.9 442.9h0M192.4 442.5h0M194.3 443.0h0M196.9 442.5h0M198.8 442.8h0M179.6 444.4h0M181.9 444.8h0M185.3 444.4h0M187.3 444.6h0M189.7 444.4h0M191.9 444.3h0M193.6 444.6h0M195.8 444.8h0M197.6 444.6h0M179.7 446.2h0M181.8 446.3h0M183.7 446.3h0M185.5 446.5h0M187.3 446.3h0M189.6 446.1h0M191.7 446.3h0M193.7 446.0h0M195.7 446.0h0M178.4 447.8h0M180.6 448.1h0M182.8 448.0h0M184.4 448.4h0M186.5 448.1h0M188.5 448.2h0M190.9 447.9h0M192.7 448.3h0M194.5 448.1h0M196.6 447.8h0M198.8 448.4h0M178.8 450.2h0M180.6 449.8h0M182.8 449.7h0M184.9 449.6h0M186.8 449.7h0M188.4 450.0h0M192.6 449.9h0M194.8 449.7h0M196.7 449.7h0M178.3 451.8h0M180.6 451.8h0M182.5 451.7h0M184.3 451.6h0M186.5 452.0h0M188.3 451.6h0M190.5 451.5h0M192.9 452.0h0M194.4 451.8h0M196.3 451.9h0M198.4 451.9h0M179.4 453.8h0M181.4 453.2h0M183.3 453.7h0M185.7 453.5h0M187.4 453.6h0M189.6 453.3h0M191.9 453.5h0M193.7 453.2h0M195.9 453.7h0M197.8 453.8h0M182.5 454.1h0M184.3 454.1h0M186.3 454.4h0M188.7 454.1h0M190.4 454.6h0M192.6 454.4h0M182.4 455.9h0M184.3 456.4h0M186.7 456.0h0M188.8 456.2h0M190.8 456.0h0M192.7 456.4h0M194.7 456.5h0M180.4 458.1h0M182.7 457.9h0M184.4 457.7h0M186.7 458.0h0M188.8 458.0h0M190.4 458.3h0M192.6 457.8h0M194.6 457.9h0M196.5 458.1h0M181.8 459.5h0M183.8 459.5h0M185.5 460.1h0M189.7 460.0h0M191.5 459.6h0M193.3 459.5h0M195.7 459.5h0M182.5 461.9h0M184.8 461.4h0M186.6 461.3h0M188.4 461.4h0M190.9 461.5h0M192.3 461.3h0M194.5 461.3h0M196.5 461.3h0M182.4 463.6h0M184.5 463.4h0M186.7 463.7h0M188.5 463.7h0M190.4 463.1h0M192.5 463.3h0M194.5 463.4h0M185.5 465.5h0M187.9 464.9h0M189.5 465.1h0M191.9 465.1h0M193.5 465.3h0M195.4 464.9h0M184.5 465.5h0M186.7 465.8h0M190.7 465.8h0M183.3 467.2h0M185.8 467.8h0M187.8 467.6h0M189.5 467.8h0M191.3 467.2h0M193.8 467.7h0M184.5 469.1h0M188.5 469.4h0M190.3 469.0h0M192.4 469.3h0M186.6 471.2h0M188.8 470.8h0M185.6 473.0h0M187.8 472.6h0M189.6 473.0h0M191.7 472.6h0M186.9 474.5h0M188.3 474.8h0M190.7 474.9h0M184.8 476.2h0M186.4 476.5h0M188.3 476.3h0M190.5 476.2h0M192.3 476.2h0M189.8 476.8h0M187.7 480.9h0M187.8 482.6h0M189.7 482.5h0M187.8 484.4h0M189.6 484.3h0M187.6 486.3h0M189.6 486.3h0M187.9 489.5h0M189.4 489.8h0M189.8 494.8h0M187.9 496.5h0M189.4 500.7h0M189.8 504.3h0M187.7 505.6h0" stroke="#F2787F" stroke-width="2.3" stroke-linecap="round"/>
<rect x="174.7" y="432.6" width="28.0" height="21.1" fill="none" stroke="#F2787F" stroke-width="1.6"/>
<line x1="174.70" y1="440.92" x2="202.70" y2="440.92" stroke="#F2787F" stroke-width="1.6" />
<line x1="188.70" y1="404.50" x2="188.70" y2="432.57" stroke="#F2787F" stroke-width="1.6" />
<line x1="188.70" y1="453.63" x2="188.70" y2="507.32" stroke="#F2787F" stroke-width="1.6" />
<line x1="181.50" y1="404.50" x2="195.90" y2="404.50" stroke="#F2787F" stroke-width="1.6" />
<line x1="181.50" y1="507.32" x2="195.90" y2="507.32" stroke="#F2787F" stroke-width="1.6" />
<line x1="75.00" y1="339.00" x2="75.00" y2="511.00" stroke="#000" stroke-width="2" />
<line x1="74.00" y1="510.00" x2="217.60" y2="510.00" stroke="#000" stroke-width="2" />
<line x1="71.60" y1="340.00" x2="75.00" y2="340.00" stroke="#000" stroke-width="2" />
<text x="71.4" y="344.0" font-family="Liberation Sans, sans-serif" font-weight="bold" font-size="11" text-anchor="end" fill="#000" >10</text>
<line x1="71.60" y1="377.94" x2="75.00" y2="377.94" stroke="#000" stroke-width="2" />
<text x="71.4" y="381.9" font-family="Liberation Sans, sans-serif" font-weight="bold" font-size="11" text-anchor="end" fill="#000" >8</text>
<line x1="71.60" y1="415.88" x2="75.00" y2="415.88" stroke="#000" stroke-width="2" />
<text x="71.4" y="419.9" font-family="Liberation Sans, sans-serif" font-weight="bold" font-size="11" text-anchor="end" fill="#000" >6</text>
<line x1="71.60" y1="453.82" x2="75.00" y2="453.82" stroke="#000" stroke-width="2" />
<text x="71.4" y="457.8" font-family="Liberation Sans, sans-serif" font-weight="bold" font-size="11" text-anchor="end" fill="#000" >4</text>
<line x1="71.60" y1="491.76" x2="75.00" y2="491.76" stroke="#000" stroke-width="2" />
<text x="71.4" y="495.8" font-family="Liberation Sans, sans-serif" font-weight="bold" font-size="11" text-anchor="end" fill="#000" >2</text>
<line x1="103.70" y1="510.00" x2="103.70" y2="513.20" stroke="#000" stroke-width="2" />
<line x1="146.10" y1="510.00" x2="146.10" y2="513.20" stroke="#000" stroke-width="2" />
<line x1="188.70" y1="510.00" x2="188.70" y2="513.20" stroke="#000" stroke-width="2" />
<line x1="103.90" y1="363.60" x2="146.20" y2="363.60" stroke="#000" stroke-width="1.8" />
<line x1="146.40" y1="342.60" x2="188.70" y2="342.60" stroke="#000" stroke-width="1.8" />
<text transform="translate(107.7,525.0) rotate(-45)" font-family="Liberation Sans, sans-serif" font-weight="bold" font-size="14.5" text-anchor="end">WHO II</text>
<text transform="translate(151.6,523.5) rotate(-45)" font-family="Liberation Sans, sans-serif" font-weight="bold" font-size="14.5" text-anchor="end">WHO III</text>
<text transform="translate(195.5,522.9) rotate(-45)" font-family="Liberation Sans, sans-serif" font-weight="bold" font-size="14.5" text-anchor="end">WHO IV</text>
<text x="370.0" y="303.8" font-family="Liberation Sans, sans-serif" font-weight="bold" font-size="16.3" text-anchor="middle" fill="#000" >Grade</text>
<text transform="translate(265.5,428.0) rotate(-90)" font-family="Liberation Sans, sans-serif" font-weight="bold" font-size="16.55" text-anchor="middle" fill="#000" >TSPAN4 expression in CCGA</text>
<path d="M319.0 478.2h0M320.9 478.3h0M323.0 476.8h0M325.2 477.9h0M327.8 478.8h0M329.6 477.1h0M331.7 478.0h0M333.9 477.5h0M336.0 477.9h0M313.9 484.1h0M315.7 484.8h0M318.1 483.2h0M320.2 483.7h0M322.4 484.2h0M324.5 484.0h0M326.4 484.4h0M328.7 483.4h0M330.4 484.0h0M332.9 483.7h0M335.1 484.6h0M337.1 484.2h0M339.1 484.3h0M341.0 483.3h0M317.8 489.0h0M320.0 489.9h0M322.5 491.2h0M324.3 491.0h0M326.6 490.4h0M328.5 490.6h0M330.7 489.9h0M332.7 490.0h0M334.9 489.9h0M337.0 490.4h0M326.7 463.2h0M328.3 463.7h0M325.2 461.6h0M327.4 462.6h0M329.8 462.4h0M321.1 474.9h0M323.3 473.7h0M325.3 473.1h0M327.4 474.5h0M329.6 474.4h0M331.7 474.9h0M333.9 473.9h0M321.4 480.9h0M323.5 482.4h0M325.7 482.7h0M327.2 481.3h0M329.8 481.9h0M331.6 482.8h0M333.9 482.3h0M320.0 486.1h0M322.1 486.6h0M324.5 485.7h0M326.3 486.9h0M328.8 484.9h0M330.7 485.8h0M333.0 486.5h0M334.6 486.3h0M322.5 488.3h0M324.4 487.7h0M326.6 489.2h0M328.4 488.0h0M330.8 487.3h0M332.8 488.8h0M325.3 447.8h0M327.3 448.7h0M329.7 448.6h0M327.8 430.3h0M319.4 492.8h0M321.1 492.7h0M323.3 492.3h0M325.2 493.3h0M327.6 491.4h0M329.7 492.1h0M331.5 491.4h0M334.0 491.9h0M335.9 492.4h0M326.3 457.9h0M328.3 458.8h0M325.2 468.2h0M327.5 467.7h0M329.8 467.0h0M327.4 442.3h0M326.2 445.7h0M328.8 445.6h0M326.3 476.7h0M328.5 476.2h0M325.7 495.7h0M327.6 495.8h0M329.5 496.5h0M327.3 453.7h0M324.5 479.6h0M326.6 480.7h0M328.4 481.1h0M330.7 480.1h0M327.5 460.0h0M327.4 471.6h0M327.8 456.6h0M327.3 452.5h0M327.4 427.6h0" stroke="#66A6FA" stroke-width="2.2" stroke-linecap="round"/>
<rect x="313.5" y="470.1" width="28.0" height="18.2" fill="none" stroke="#66A6FA" stroke-width="1.6"/>
<line x1="313.50" y1="481.98" x2="341.50" y2="481.98" stroke="#66A6FA" stroke-width="1.6" />
<line x1="327.50" y1="427.74" x2="327.50" y2="470.11" stroke="#66A6FA" stroke-width="1.6" />
<line x1="327.50" y1="488.29" x2="327.50" y2="496.75" stroke="#66A6FA" stroke-width="1.6" />
<line x1="320.50" y1="427.74" x2="334.50" y2="427.74" stroke="#66A6FA" stroke-width="1.6" />
<line x1="320.50" y1="496.75" x2="334.50" y2="496.75" stroke="#66A6FA" stroke-width="1.6" />
<path d="M361.2 474.4h0M364.0 474.2h0M367.0 474.2h0M370.0 474.6h0M373.0 473.0h0M376.5 474.5h0M379.1 474.3h0M370.0 469.9h0M368.9 439.3h0M371.5 441.3h0M365.5 472.6h0M368.9 472.4h0M371.6 471.3h0M374.5 472.2h0M370.0 468.5h0M365.6 482.4h0M369.0 482.2h0M371.7 481.6h0M374.5 482.5h0M365.9 466.4h0M368.5 466.7h0M371.8 466.0h0M374.5 466.6h0M368.9 454.7h0M371.7 453.9h0M363.9 486.7h0M367.0 486.7h0M370.1 486.9h0M373.3 485.1h0M376.0 486.2h0M363.9 478.0h0M367.2 479.2h0M370.3 477.7h0M373.5 478.4h0M375.9 477.3h0M370.2 452.3h0M368.5 462.6h0M371.7 461.7h0M364.1 488.9h0M367.5 488.0h0M370.3 487.4h0M373.0 486.9h0M375.9 488.2h0M370.3 431.1h0M368.4 434.6h0M371.7 434.7h0M368.6 465.3h0M371.4 464.5h0M370.3 483.9h0M370.3 491.4h0M365.9 480.3h0M368.6 480.6h0M371.9 479.4h0M374.7 480.0h0M370.4 489.2h0M367.3 448.7h0M370.2 448.4h0M372.9 448.4h0M370.5 417.1h0M370.3 418.5h0M370.3 449.2h0M368.7 458.0h0M371.5 458.9h0M366.9 475.8h0M370.2 475.9h0M373.3 475.8h0M370.3 435.6h0M368.6 495.6h0M371.6 496.3h0M370.0 432.1h0M370.4 456.5h0M370.2 415.0h0" stroke="#7CF4BE" stroke-width="2.2" stroke-linecap="round"/>
<rect x="356.2" y="459.7" width="28.0" height="19.9" fill="none" stroke="#7CF4BE" stroke-width="1.6"/>
<line x1="356.20" y1="473.18" x2="384.20" y2="473.18" stroke="#7CF4BE" stroke-width="1.6" />
<line x1="370.20" y1="414.68" x2="370.20" y2="459.69" stroke="#7CF4BE" stroke-width="1.6" />
<line x1="370.20" y1="479.60" x2="370.20" y2="496.18" stroke="#7CF4BE" stroke-width="1.6" />
<line x1="363.20" y1="414.68" x2="377.20" y2="414.68" stroke="#7CF4BE" stroke-width="1.6" />
<line x1="363.20" y1="496.18" x2="377.20" y2="496.18" stroke="#7CF4BE" stroke-width="1.6" />
<path d="M408.0 454.3h0M410.3 454.0h0M413.1 454.2h0M415.3 453.9h0M418.4 454.3h0M408.0 442.9h0M410.4 442.2h0M412.9 442.0h0M415.5 442.0h0M418.5 441.7h0M410.4 479.1h0M412.8 479.6h0M415.7 479.7h0M412.8 492.3h0M407.7 462.1h0M410.2 460.9h0M412.9 463.0h0M415.8 463.0h0M418.5 462.7h0M406.2 469.7h0M409.1 469.3h0M411.8 469.0h0M414.1 470.0h0M417.2 470.2h0M419.4 469.2h0M408.9 426.8h0M411.5 425.8h0M414.3 426.2h0M416.7 426.9h0M402.7 440.8h0M405.0 440.7h0M408.0 440.4h0M410.2 440.6h0M413.2 440.1h0M415.7 440.3h0M418.5 439.7h0M420.9 440.8h0M423.5 440.1h0M410.4 445.9h0M412.9 446.1h0M415.4 446.9h0M411.6 448.3h0M414.5 448.4h0M406.8 478.9h0M409.0 478.0h0M411.9 477.4h0M414.1 477.2h0M417.1 477.4h0M419.7 477.6h0M411.8 456.7h0M414.2 455.4h0M411.6 411.1h0M414.5 411.7h0M410.2 484.7h0M413.3 483.8h0M415.3 485.0h0M409.3 465.1h0M411.6 463.6h0M414.2 464.0h0M417.1 464.8h0M410.2 460.0h0M412.7 459.8h0M415.3 460.7h0M412.8 421.8h0M411.6 488.0h0M414.1 487.1h0M411.9 409.8h0M414.1 410.3h0M406.5 451.7h0M409.1 451.7h0M411.9 452.3h0M414.4 451.1h0M417.0 452.0h0M419.4 451.4h0M409.2 482.4h0M412.0 481.1h0M414.5 481.2h0M417.2 482.0h0M413.0 389.9h0M410.5 404.7h0M413.2 404.2h0M415.3 404.6h0M405.0 457.9h0M407.5 458.4h0M410.2 457.8h0M413.1 458.3h0M415.9 458.6h0M418.5 456.9h0M420.6 459.0h0M411.7 466.5h0M414.5 465.9h0M406.5 444.6h0M408.9 443.5h0M411.8 445.3h0M414.6 443.9h0M417.2 444.3h0M419.4 444.9h0M406.6 485.5h0M408.8 486.6h0M411.7 487.2h0M414.5 486.6h0M416.8 485.2h0M419.7 486.5h0M413.0 438.0h0M409.2 401.1h0M411.6 402.3h0M414.2 403.1h0M416.7 402.0h0M412.0 399.8h0M414.2 399.0h0M408.9 472.8h0M411.8 471.9h0M414.3 471.3h0M416.9 472.1h0M411.6 424.8h0M414.6 423.2h0M409.1 473.5h0M411.5 474.4h0M414.1 472.9h0M416.8 474.0h0M412.0 433.1h0M414.2 433.6h0M411.6 449.2h0M414.4 450.3h0M411.8 476.3h0M414.2 476.1h0M412.0 408.3h0M414.1 408.8h0M411.6 437.2h0M414.1 434.9h0M411.8 494.7h0M414.4 493.6h0M413.3 394.2h0M413.3 375.6h0M413.0 430.6h0M411.8 413.3h0M414.1 414.4h0M411.8 468.4h0M414.4 469.0h0M413.1 416.5h0M412.9 497.8h0M413.2 374.0h0" stroke="#F2787F" stroke-width="2.2" stroke-linecap="round"/>
<rect x="399.0" y="436.8" width="28.0" height="34.8" fill="none" stroke="#F2787F" stroke-width="1.6"/>
<line x1="399.00" y1="452.31" x2="427.00" y2="452.31" stroke="#F2787F" stroke-width="1.6" />
<line x1="413.00" y1="373.78" x2="413.00" y2="436.83" stroke="#F2787F" stroke-width="1.6" />
<line x1="413.00" y1="471.59" x2="413.00" y2="498.17" stroke="#F2787F" stroke-width="1.6" />
<line x1="406.00" y1="373.78" x2="420.00" y2="373.78" stroke="#F2787F" stroke-width="1.6" />
<line x1="406.00" y1="498.17" x2="420.00" y2="498.17" stroke="#F2787F" stroke-width="1.6" />
<line x1="299.00" y1="338.70" x2="299.00" y2="511.00" stroke="#000" stroke-width="2" />
<line x1="298.00" y1="510.00" x2="441.80" y2="510.00" stroke="#000" stroke-width="2" />
<line x1="295.60" y1="339.70" x2="299.00" y2="339.70" stroke="#000" stroke-width="2" />
<text x="295.4" y="343.7" font-family="Liberation Sans, sans-serif" font-weight="bold" font-size="11" text-anchor="end" fill="#000" >60</text>
<line x1="295.60" y1="396.50" x2="299.00" y2="396.50" stroke="#000" stroke-width="2" />
<text x="295.4" y="400.5" font-family="Liberation Sans, sans-serif" font-weight="bold" font-size="11" text-anchor="end" fill="#000" >40</text>
<line x1="295.60" y1="453.30" x2="299.00" y2="453.30" stroke="#000" stroke-width="2" />
<text x="295.4" y="457.3" font-family="Liberation Sans, sans-serif" font-weight="bold" font-size="11" text-anchor="end" fill="#000" >20</text>
<line x1="295.60" y1="510.10" x2="299.00" y2="510.10" stroke="#000" stroke-width="2" />
<text x="295.4" y="514.1" font-family="Liberation Sans, sans-serif" font-weight="bold" font-size="11" text-anchor="end" fill="#000" >0</text>
<line x1="327.50" y1="510.00" x2="327.50" y2="513.20" stroke="#000" stroke-width="2" />
<line x1="370.20" y1="510.00" x2="370.20" y2="513.20" stroke="#000" stroke-width="2" />
<line x1="413.00" y1="510.00" x2="413.00" y2="513.20" stroke="#000" stroke-width="2" />
<line x1="327.80" y1="405.90" x2="370.10" y2="405.90" stroke="#000" stroke-width="1.8" />
<line x1="370.10" y1="364.90" x2="412.90" y2="364.90" stroke="#000" stroke-width="1.8" />
<text transform="translate(332.2,522.6) rotate(-45)" font-family="Liberation Sans, sans-serif" font-weight="bold" font-size="15" text-anchor="end">WHO II</text>
<text transform="translate(377.0,522.7) rotate(-45)" font-family="Liberation Sans, sans-serif" font-weight="bold" font-size="15" text-anchor="end">WHO III</text>
<text transform="translate(421.0,520.3) rotate(-45)" font-family="Liberation Sans, sans-serif" font-weight="bold" font-size="15" text-anchor="end">WHO IV</text>
<text x="611.4" y="301.7" font-family="Liberation Sans, sans-serif" font-weight="bold" font-size="16.3" text-anchor="middle" fill="#000" >IDH1_Status</text>
<text transform="translate(506.0,427.6) rotate(-90)" font-family="Liberation Sans, sans-serif" font-weight="bold" font-size="16.7" text-anchor="middle" fill="#000" >TSPAN4 expression in CCGA</text>
<path d="M580.9 426.5h0M580.6 431.8h0M581.0 434.5h0M580.6 437.5h0M581.0 440.5h0M577.4 441.2h0M576.3 443.9h0M579.4 443.7h0M582.4 443.7h0M585.6 443.6h0M581.1 446.6h0M584.2 446.2h0M575.8 449.1h0M579.0 449.3h0M582.3 449.0h0M585.4 449.1h0M577.3 452.2h0M584.2 452.4h0M576.2 453.9h0M579.0 453.6h0M574.6 456.4h0M577.3 456.8h0M581.0 456.3h0M584.1 456.6h0M587.4 456.4h0M576.1 459.0h0M578.9 459.4h0M582.4 459.0h0M585.5 459.0h0M579.1 461.9h0M582.1 462.1h0M585.8 461.8h0M566.7 462.6h0M569.7 462.5h0M572.8 462.9h0M579.3 462.8h0M582.5 462.5h0M585.5 462.4h0M588.5 462.5h0M592.2 462.7h0M595.4 462.4h0M566.3 465.3h0M569.3 465.7h0M573.0 465.2h0M575.9 465.1h0M579.1 465.4h0M588.8 465.1h0M595.5 465.4h0M564.6 468.5h0M568.0 468.1h0M571.4 468.0h0M584.3 468.2h0M587.3 468.4h0M593.3 468.2h0M563.5 468.1h0M566.1 467.9h0M569.3 468.4h0M573.1 468.4h0M576.1 468.4h0M579.1 468.4h0M582.3 468.5h0M585.4 468.4h0M588.5 467.9h0M591.9 468.5h0M595.4 468.4h0M598.7 468.4h0M563.2 471.3h0M566.2 470.9h0M569.4 471.1h0M573.0 470.8h0M576.1 470.9h0M582.4 471.2h0M585.8 471.1h0M589.1 470.7h0M591.8 471.2h0M594.9 471.0h0M563.3 473.6h0M566.1 473.8h0M569.5 473.6h0M572.9 473.7h0M578.9 474.1h0M585.8 473.9h0M588.9 473.9h0M591.7 474.0h0M594.9 473.9h0M598.4 474.0h0M561.8 476.6h0M564.7 476.9h0M568.3 476.5h0M571.5 476.7h0M574.1 476.6h0M577.8 476.8h0M583.9 476.6h0M586.9 476.4h0M590.3 476.5h0M597.1 476.5h0M600.3 476.3h0M562.9 479.3h0M566.2 479.1h0M569.3 479.2h0M573.1 479.5h0M576.1 479.6h0M579.0 479.1h0M582.4 479.4h0M585.4 479.5h0M588.7 479.2h0M592.1 479.4h0M598.6 479.1h0M561.9 482.5h0M565.0 482.0h0M567.7 482.2h0M571.3 482.3h0M574.5 482.0h0M577.5 481.9h0M583.7 482.4h0M587.2 482.1h0M590.1 482.2h0M593.4 482.5h0M596.7 482.4h0M599.7 482.4h0M565.1 484.5h0M568.2 484.3h0M571.4 484.4h0M574.1 484.5h0M577.6 484.2h0M580.7 484.5h0M584.0 484.5h0M587.2 484.5h0M590.6 484.6h0M593.6 484.1h0M596.8 484.3h0M566.3 487.3h0M569.8 486.9h0M572.8 487.1h0M575.9 487.3h0M579.2 487.0h0M582.5 487.1h0M585.7 487.0h0M588.5 487.4h0M592.3 487.2h0M595.5 487.1h0M569.8 490.0h0M572.5 489.8h0M579.2 489.6h0M582.2 490.1h0M585.9 489.7h0M589.0 489.6h0M591.9 490.0h0M572.8 490.8h0M576.0 490.4h0M578.9 490.7h0M582.4 490.4h0M585.7 490.9h0M577.7 493.6h0M580.5 493.3h0M584.2 493.6h0M586.9 493.7h0M576.1 496.1h0M579.2 496.5h0M582.4 496.1h0M585.8 496.1h0" stroke="#66A6FA" stroke-width="3.8" stroke-linecap="round"/>
<rect x="561.0" y="468.3" width="40.0" height="15.7" fill="none" stroke="#66A6FA" stroke-width="1.6"/>
<line x1="561.00" y1="476.61" x2="601.00" y2="476.61" stroke="#66A6FA" stroke-width="1.6" />
<line x1="581.00" y1="373.26" x2="581.00" y2="468.33" stroke="#66A6FA" stroke-width="1.6" />
<line x1="581.00" y1="484.03" x2="581.00" y2="498.02" stroke="#66A6FA" stroke-width="1.6" />
<line x1="571.00" y1="373.26" x2="591.00" y2="373.26" stroke="#66A6FA" stroke-width="1.6" />
<line x1="571.00" y1="498.02" x2="591.00" y2="498.02" stroke="#66A6FA" stroke-width="1.6" />
<circle cx="580.8" cy="373.3" r="1.8" fill="#66A6FA"/>
<path d="M638.5 378.2h0M645.6 377.9h0M638.5 381.3h0M641.9 381.2h0M643.7 386.7h0M644.1 390.0h0M645.6 393.1h0M640.7 396.0h0M643.8 395.8h0M638.4 399.2h0M641.9 398.7h0M640.1 402.0h0M638.7 405.0h0M645.5 404.8h0M641.9 408.1h0M638.7 414.3h0M642.0 413.8h0M638.6 416.7h0M642.4 417.1h0M645.8 416.9h0M638.5 419.8h0M642.4 419.8h0M645.6 420.3h0M642.1 423.1h0M638.9 425.9h0M642.4 426.0h0M639.0 426.0h0M641.9 425.7h0M645.6 425.7h0M648.9 426.0h0M652.5 425.8h0M631.6 428.8h0M635.5 428.8h0M642.2 429.1h0M645.8 429.1h0M652.2 428.8h0M637.1 432.3h0M640.1 432.3h0M644.1 432.3h0M654.2 431.9h0M625.2 431.7h0M628.7 432.0h0M631.8 432.3h0M635.4 432.1h0M639.0 431.8h0M655.7 431.9h0M625.4 435.2h0M635.5 435.0h0M642.1 435.1h0M649.0 435.3h0M652.1 434.7h0M659.0 435.0h0M624.9 437.8h0M631.6 438.3h0M635.0 438.1h0M648.7 438.2h0M659.0 438.1h0M623.4 441.2h0M626.8 441.2h0M630.0 441.1h0M633.8 440.8h0M640.2 441.0h0M647.3 440.9h0M654.2 440.7h0M657.1 440.7h0M661.1 440.9h0M623.5 443.9h0M627.0 444.0h0M630.4 444.3h0M633.3 443.9h0M640.2 444.2h0M644.0 443.8h0M647.3 443.7h0M654.2 444.2h0M657.6 444.2h0M660.9 443.8h0M626.8 446.7h0M640.6 446.7h0M643.6 447.3h0M647.2 447.0h0M650.3 447.1h0M657.7 446.9h0M660.8 447.3h0M626.8 449.7h0M630.1 449.8h0M633.6 450.2h0M643.6 450.3h0M647.1 450.2h0M650.9 450.1h0M657.7 450.0h0M625.0 452.8h0M631.7 453.1h0M635.1 452.8h0M638.4 453.2h0M645.8 453.0h0M649.2 452.8h0M659.3 452.9h0M626.6 455.7h0M633.7 456.1h0M647.5 455.9h0M650.7 455.7h0M657.3 455.9h0M660.8 456.2h0M624.9 459.3h0M628.5 459.3h0M631.8 458.9h0M635.4 458.9h0M638.8 459.2h0M645.8 459.3h0M655.6 459.3h0M659.3 458.9h0M625.3 461.9h0M628.7 462.2h0M639.0 461.7h0M642.4 462.2h0M645.8 461.8h0M648.8 462.3h0M652.2 462.0h0M656.0 461.7h0M659.4 461.7h0M625.4 464.9h0M628.7 465.1h0M635.3 464.7h0M641.8 465.0h0M649.0 464.7h0M652.0 465.2h0M625.4 468.2h0M632.2 468.1h0M638.9 468.0h0M642.1 467.7h0M648.7 468.2h0M652.2 468.3h0M659.1 467.7h0M628.8 470.7h0M631.6 470.7h0M645.4 470.9h0M648.8 470.7h0M655.6 471.2h0M659.4 471.2h0M632.0 471.3h0M639.0 470.8h0M648.6 471.3h0M652.2 471.3h0M633.4 474.3h0M636.7 474.0h0M640.6 473.8h0M643.7 474.0h0M647.2 474.2h0M650.4 474.0h0M633.8 476.7h0M637.3 476.8h0M640.5 476.8h0M643.9 477.0h0M647.0 477.0h0M633.6 479.8h0M637.2 479.7h0M640.4 479.7h0M643.6 479.9h0M647.2 480.2h0M638.9 480.9h0M645.7 480.9h0M637.2 483.8h0M643.7 483.9h0M625.4 485.7h0M628.2 485.7h0M632.2 485.7h0M638.9 486.2h0M642.4 485.7h0M645.3 486.1h0M649.0 485.8h0M652.2 486.3h0M655.8 486.0h0M658.8 485.8h0M625.1 488.9h0M628.4 489.0h0M638.6 488.8h0M642.1 489.3h0M645.3 488.9h0M648.6 488.7h0M652.0 489.2h0M659.4 489.0h0M624.8 491.9h0M628.6 491.7h0M635.6 492.2h0M641.8 491.7h0M645.2 491.8h0M649.2 492.0h0M652.1 491.8h0M655.9 492.3h0M640.5 492.2h0M643.8 495.2h0" stroke="#F2787F" stroke-width="3.6" stroke-linecap="round"/>
<rect x="622.2" y="435.2" width="40.0" height="35.4" fill="none" stroke="#F2787F" stroke-width="1.6"/>
<line x1="622.20" y1="448.63" x2="662.20" y2="448.63" stroke="#F2787F" stroke-width="1.6" />
<line x1="642.20" y1="374.12" x2="642.20" y2="435.21" stroke="#F2787F" stroke-width="1.6" />
<line x1="642.20" y1="470.62" x2="642.20" y2="496.88" stroke="#F2787F" stroke-width="1.6" />
<line x1="632.20" y1="374.12" x2="652.20" y2="374.12" stroke="#F2787F" stroke-width="1.6" />
<line x1="632.20" y1="496.88" x2="652.20" y2="496.88" stroke="#F2787F" stroke-width="1.6" />
<line x1="539.30" y1="338.20" x2="539.30" y2="511.00" stroke="#000" stroke-width="2" />
<line x1="538.30" y1="510.00" x2="680.80" y2="510.00" stroke="#000" stroke-width="2" />
<line x1="535.90" y1="339.00" x2="539.30" y2="339.00" stroke="#000" stroke-width="2" />
<text x="535.7" y="343.0" font-family="Liberation Sans, sans-serif" font-weight="bold" font-size="11" text-anchor="end" fill="#000" >60</text>
<line x1="535.90" y1="396.10" x2="539.30" y2="396.10" stroke="#000" stroke-width="2" />
<text x="535.7" y="400.1" font-family="Liberation Sans, sans-serif" font-weight="bold" font-size="11" text-anchor="end" fill="#000" >40</text>
<line x1="535.90" y1="453.20" x2="539.30" y2="453.20" stroke="#000" stroke-width="2" />
<text x="535.7" y="457.2" font-family="Liberation Sans, sans-serif" font-weight="bold" font-size="11" text-anchor="end" fill="#000" >20</text>
<line x1="535.90" y1="510.30" x2="539.30" y2="510.30" stroke="#000" stroke-width="2" />
<text x="535.7" y="514.3" font-family="Liberation Sans, sans-serif" font-weight="bold" font-size="11" text-anchor="end" fill="#000" >0</text>
<line x1="581.00" y1="510.00" x2="581.00" y2="513.20" stroke="#000" stroke-width="2" />
<line x1="642.20" y1="510.00" x2="642.20" y2="513.20" stroke="#000" stroke-width="2" />
<line x1="581.00" y1="358.40" x2="641.80" y2="358.40" stroke="#000" stroke-width="1.8" />
<text x="581.0" y="526.2" font-family="Liberation Sans, sans-serif" font-weight="bold" font-size="14.4" text-anchor="middle" fill="#000" >Mutant</text>
<text x="642.2" y="526.2" font-family="Liberation Sans, sans-serif" font-weight="bold" font-size="14.4" text-anchor="middle" fill="#000" >Wildtype</text>
<path d="M139.40 61.10V67.70M136.54 62.75L142.26 66.05M136.54 66.05L142.26 62.75" stroke="#000" stroke-width="1.4" fill="none"/>
<path d="M148.90 61.10V67.70M146.04 62.75L151.76 66.05M146.04 66.05L151.76 62.75" stroke="#000" stroke-width="1.4" fill="none"/>
<path d="M158.40 61.10V67.70M155.54 62.75L161.26 66.05M155.54 66.05L161.26 62.75" stroke="#000" stroke-width="1.4" fill="none"/>
<path d="M358.20 78.40V85.00M355.34 80.05L361.06 83.35M355.34 83.35L361.06 80.05" stroke="#000" stroke-width="1.4" fill="none"/>
<path d="M367.20 78.40V85.00M364.34 80.05L370.06 83.35M364.34 83.35L370.06 80.05" stroke="#000" stroke-width="1.4" fill="none"/>
<path d="M376.20 78.40V85.00M373.34 80.05L379.06 83.35M373.34 83.35L379.06 80.05" stroke="#000" stroke-width="1.4" fill="none"/>
<path d="M385.20 78.40V85.00M382.34 80.05L388.06 83.35M382.34 83.35L388.06 80.05" stroke="#000" stroke-width="1.4" fill="none"/>
<path d="M601.00 69.00V75.60M598.14 70.65L603.86 73.95M598.14 73.95L603.86 70.65" stroke="#000" stroke-width="1.4" fill="none"/>
<path d="M610.50 69.00V75.60M607.64 70.65L613.36 73.95M607.64 73.95L613.36 70.65" stroke="#000" stroke-width="1.4" fill="none"/>
<path d="M620.00 69.00V75.60M617.14 70.65L622.86 73.95M617.14 73.95L622.86 70.65" stroke="#000" stroke-width="1.4" fill="none"/>
<path d="M116.70 351.70V358.30M113.84 353.35L119.56 356.65M113.84 356.65L119.56 353.35" stroke="#000" stroke-width="1.4" fill="none"/>
<path d="M126.20 351.70V358.30M123.34 353.35L129.06 356.65M123.34 356.65L129.06 353.35" stroke="#000" stroke-width="1.4" fill="none"/>
<path d="M135.70 351.70V358.30M132.84 353.35L138.56 356.65M132.84 356.65L138.56 353.35" stroke="#000" stroke-width="1.4" fill="none"/>
<path d="M159.30 330.70V337.30M156.44 332.35L162.16 335.65M156.44 335.65L162.16 332.35" stroke="#000" stroke-width="1.4" fill="none"/>
<path d="M168.80 330.70V337.30M165.94 332.35L171.66 335.65M165.94 335.65L171.66 332.35" stroke="#000" stroke-width="1.4" fill="none"/>
<path d="M178.30 330.70V337.30M175.44 332.35L181.16 335.65M175.44 335.65L181.16 332.35" stroke="#000" stroke-width="1.4" fill="none"/>
<path d="M344.95 393.40V400.00M342.09 395.05L347.81 398.35M342.09 398.35L347.81 395.05" stroke="#000" stroke-width="1.4" fill="none"/>
<path d="M354.25 393.40V400.00M351.39 395.05L357.11 398.35M351.39 398.35L357.11 395.05" stroke="#000" stroke-width="1.4" fill="none"/>
<path d="M378.90 352.30V358.90M376.04 353.95L381.76 357.25M376.04 357.25L381.76 353.95" stroke="#000" stroke-width="1.4" fill="none"/>
<path d="M387.90 352.30V358.90M385.04 353.95L390.76 357.25M385.04 357.25L390.76 353.95" stroke="#000" stroke-width="1.4" fill="none"/>
<path d="M396.90 352.30V358.90M394.04 353.95L399.76 357.25M394.04 357.25L399.76 353.95" stroke="#000" stroke-width="1.4" fill="none"/>
<path d="M405.90 352.30V358.90M403.04 353.95L408.76 357.25M403.04 357.25L408.76 353.95" stroke="#000" stroke-width="1.4" fill="none"/>
<path d="M598.70 345.90V352.50M595.84 347.55L601.56 350.85M595.84 350.85L601.56 347.55" stroke="#000" stroke-width="1.4" fill="none"/>
<path d="M607.70 345.90V352.50M604.84 347.55L610.56 350.85M604.84 350.85L610.56 347.55" stroke="#000" stroke-width="1.4" fill="none"/>
<path d="M616.70 345.90V352.50M613.84 347.55L619.56 350.85M613.84 350.85L619.56 347.55" stroke="#000" stroke-width="1.4" fill="none"/>
<path d="M625.70 345.90V352.50M622.84 347.55L628.56 350.85M622.84 350.85L628.56 347.55" stroke="#000" stroke-width="1.4" fill="none"/>
<defs><filter id="bl" x="-30%" y="-60%" width="160%" height="220%"><feGaussianBlur stdDeviation="1.0"/></filter><filter id="bl3" x="-30%" y="-80%" width="160%" height="260%"><feGaussianBlur stdDeviation="2.0"/></filter><filter id="bl4" x="-30%" y="-80%" width="160%" height="260%"><feGaussianBlur stdDeviation="1.5"/></filter><filter id="bl2" x="-30%" y="-60%" width="160%" height="220%"><feGaussianBlur stdDeviation="1.1"/></filter><linearGradient id="bg1" x1="0" x2="0" y1="0" y2="1"><stop offset="0" stop-color="#d9d9d9"/><stop offset="0.5" stop-color="#e6e6e6"/><stop offset="1" stop-color="#dedede"/></linearGradient></defs>
<text x="102.8" y="618.6" font-family="Liberation Sans, sans-serif" font-weight="bold" font-size="14" text-anchor="middle" fill="#000" >T</text>
<text x="134.0" y="618.6" font-family="Liberation Sans, sans-serif" font-weight="bold" font-size="14" text-anchor="middle" fill="#000" >N</text>
<text x="163.8" y="618.6" font-family="Liberation Sans, sans-serif" font-weight="bold" font-size="14" text-anchor="middle" fill="#000" >T</text>
<text x="194.5" y="618.6" font-family="Liberation Sans, sans-serif" font-weight="bold" font-size="14" text-anchor="middle" fill="#000" >N</text>
<text x="220.4" y="618.6" font-family="Liberation Sans, sans-serif" font-weight="bold" font-size="14" text-anchor="middle" fill="#000" >T</text>
<text x="250.8" y="618.6" font-family="Liberation Sans, sans-serif" font-weight="bold" font-size="14" text-anchor="middle" fill="#000" >N</text>
<text x="279.3" y="618.6" font-family="Liberation Sans, sans-serif" font-weight="bold" font-size="14" text-anchor="middle" fill="#000" >T</text>
<text x="310.4" y="618.6" font-family="Liberation Sans, sans-serif" font-weight="bold" font-size="14" text-anchor="middle" fill="#000" >N</text>
<text x="338.7" y="618.6" font-family="Liberation Sans, sans-serif" font-weight="bold" font-size="14" text-anchor="middle" fill="#000" >T</text>
<text x="369.8" y="618.6" font-family="Liberation Sans, sans-serif" font-weight="bold" font-size="14" text-anchor="middle" fill="#000" >N</text>
<text x="397.4" y="618.6" font-family="Liberation Sans, sans-serif" font-weight="bold" font-size="14" text-anchor="middle" fill="#000" >T</text>
<text x="426.3" y="618.6" font-family="Liberation Sans, sans-serif" font-weight="bold" font-size="14" text-anchor="middle" fill="#000" >N</text>
<text x="36.4" y="646.2" font-family="Liberation Sans, sans-serif" font-weight="bold" font-size="18" text-anchor="middle" fill="#000" >TSPAN4</text>
<text x="43.0" y="699.0" font-family="Liberation Sans, sans-serif" font-weight="bold" font-size="18.5" text-anchor="middle" fill="#000" >β-actin</text>
<rect x="84.4" y="625.6" width="367" height="27.8" fill="url(#bg1)" stroke="#111" stroke-width="1.5"/>
<rect x="82.9" y="681.6" width="367.2" height="28.2" fill="url(#bg1)" stroke="#111" stroke-width="1.5"/>
<rect x="89.3" y="629.4" width="26.5" height="15" rx="5.7" fill="#000" filter="url(#bl)"/>
<rect x="119.8" y="633.8" width="24" height="11" rx="3.5" fill="#707070" opacity="0.55" filter="url(#bl3)"/>
<rect x="121.8" y="636.3" width="20" height="6" rx="2.8" fill="#707070" filter="url(#bl4)"/>
<rect x="149.9" y="633.2" width="25.5" height="14.5" rx="5.5" fill="#000" filter="url(#bl)"/>
<rect x="180.5" y="636.8" width="23" height="11" rx="3.5" fill="#888" opacity="0.55" filter="url(#bl3)"/>
<rect x="182.5" y="639.3" width="19" height="6" rx="2.8" fill="#888" filter="url(#bl4)"/>
<rect x="209.9" y="638.5" width="23.5" height="9" rx="3.4" fill="#111" filter="url(#bl)"/>
<rect x="239.4" y="638.3" width="22.5" height="11" rx="3.5" fill="#8c8c8c" opacity="0.55" filter="url(#bl3)"/>
<rect x="241.4" y="640.8" width="18.5" height="6" rx="2.8" fill="#8c8c8c" filter="url(#bl4)"/>
<rect x="266.3" y="636.5" width="28" height="13" rx="4.9" fill="#000" filter="url(#bl)"/>
<rect x="300.3" y="640.5" width="22" height="7.5" rx="2.9" fill="#2a2a2a" filter="url(#bl)"/>
<rect x="327.6" y="637.6" width="26" height="12" rx="4.6" fill="#000" filter="url(#bl)"/>
<rect x="358.4" y="638.8" width="24" height="11" rx="3.5" fill="#555" opacity="0.55" filter="url(#bl3)"/>
<rect x="360.4" y="641.3" width="20" height="6" rx="2.8" fill="#555" filter="url(#bl4)"/>
<rect x="388.6" y="636.5" width="21.5" height="9" rx="3.4" fill="#1a1a1a" filter="url(#bl)"/>
<rect x="417.2" y="633.8" width="26" height="11" rx="3.5" fill="#9c9c9c" opacity="0.55" filter="url(#bl3)"/>
<rect x="419.2" y="636.3" width="22" height="6" rx="2.8" fill="#9c9c9c" filter="url(#bl4)"/>
<rect x="85.9" y="689.8" width="27" height="14.5" rx="5.8" fill="#3a3a3a" opacity="0.5" filter="url(#bl3)"/>
<rect x="87.4" y="691.8" width="24" height="10.5" rx="4.6" fill="#3a3a3a" filter="url(#bl4)"/>
<rect x="115.3" y="692.0" width="28" height="14" rx="5.5" fill="#444" opacity="0.5" filter="url(#bl3)"/>
<rect x="116.8" y="694.0" width="25" height="10" rx="4.4" fill="#444" filter="url(#bl4)"/>
<rect x="146.6" y="691.8" width="26.5" height="15" rx="6.0" fill="#3c3c3c" opacity="0.5" filter="url(#bl3)"/>
<rect x="148.1" y="693.8" width="23.5" height="11" rx="4.8" fill="#3c3c3c" filter="url(#bl4)"/>
<rect x="174.7" y="693.1" width="28.5" height="15" rx="6.0" fill="#444" opacity="0.5" filter="url(#bl3)"/>
<rect x="176.2" y="695.1" width="25.5" height="11" rx="4.8" fill="#444" filter="url(#bl4)"/>
<rect x="205.2" y="694.5" width="27" height="12.5" rx="4.8" fill="#555" opacity="0.5" filter="url(#bl3)"/>
<rect x="206.7" y="696.5" width="24" height="8.5" rx="3.8" fill="#555" filter="url(#bl4)"/>
<rect x="235.4" y="694.2" width="27.5" height="15.5" rx="6.2" fill="#383838" opacity="0.5" filter="url(#bl3)"/>
<rect x="236.9" y="696.2" width="24.5" height="11.5" rx="5.0" fill="#383838" filter="url(#bl4)"/>
<rect x="263.8" y="693.7" width="30" height="15" rx="6.0" fill="#333" opacity="0.5" filter="url(#bl3)"/>
<rect x="265.3" y="695.7" width="27" height="11" rx="4.8" fill="#333" filter="url(#bl4)"/>
<rect x="296.0" y="695.0" width="28" height="14" rx="5.5" fill="#4a4a4a" opacity="0.5" filter="url(#bl3)"/>
<rect x="297.5" y="697.0" width="25" height="10" rx="4.4" fill="#4a4a4a" filter="url(#bl4)"/>
<rect x="326.0" y="693.5" width="28" height="14" rx="5.5" fill="#3e3e3e" opacity="0.5" filter="url(#bl3)"/>
<rect x="327.5" y="695.5" width="25" height="10" rx="4.4" fill="#3e3e3e" filter="url(#bl4)"/>
<rect x="356.3" y="690.7" width="28" height="14" rx="5.5" fill="#2a2a2a" opacity="0.5" filter="url(#bl3)"/>
<rect x="357.8" y="692.7" width="25" height="10" rx="4.4" fill="#2a2a2a" filter="url(#bl4)"/>
<rect x="385.5" y="688.1" width="26" height="13" rx="5.0" fill="#4a4a4a" opacity="0.5" filter="url(#bl3)"/>
<rect x="387.0" y="690.1" width="23" height="9" rx="4.0" fill="#4a4a4a" filter="url(#bl4)"/>
<rect x="416.0" y="684.8" width="29" height="13.5" rx="5.2" fill="#0a0a0a" opacity="0.5" filter="url(#bl3)"/>
<rect x="417.5" y="686.8" width="26" height="9.5" rx="4.2" fill="#0a0a0a" filter="url(#bl4)"/>
<path d="M420 709 Q432 704 446 705 L446 709 Z" fill="#111" filter="url(#bl2)"/>
<line x1="451.70" y1="634.30" x2="454.60" y2="634.30" stroke="#000" stroke-width="1.2" />
<text x="454.3" y="637.2" font-family="Liberation Sans, sans-serif" font-weight="bold" font-size="10.2" text-anchor="start" fill="#000" >25kd</text>
<line x1="450.10" y1="689.70" x2="453.80" y2="689.70" stroke="#000" stroke-width="1.2" />
<text x="453.9" y="692.8" font-family="Liberation Sans, sans-serif" font-weight="bold" font-size="10.2" text-anchor="start" fill="#000" >40kd</text>
<rect x="564.6" y="684.1" width="32.1" height="34.5" fill="#66A6FA" stroke="#000" stroke-width="1.5"/>
<rect x="614.4" y="639.0" width="32.2" height="79.6" fill="#F2787F" stroke="#000" stroke-width="1.5"/>
<line x1="630.40" y1="639.02" x2="630.40" y2="620.42" stroke="#000" stroke-width="1.2" />
<line x1="626.00" y1="620.42" x2="634.80" y2="620.42" stroke="#000" stroke-width="1.2" />
<circle cx="630.4" cy="615.2" r="1.9" fill="#000"/>
<circle cx="630.4" cy="623.2" r="1.9" fill="#000"/>
<circle cx="630.4" cy="633.2" r="1.9" fill="#000"/>
<circle cx="630.4" cy="643.2" r="1.9" fill="#000"/>
<circle cx="630.4" cy="649.7" r="1.9" fill="#000"/>
<circle cx="630.4" cy="664.9" r="1.9" fill="#000"/>
<line x1="548.30" y1="580.20" x2="548.30" y2="719.20" stroke="#000" stroke-width="1.5" />
<line x1="547.60" y1="718.60" x2="663.60" y2="718.60" stroke="#000" stroke-width="1.5" />
<line x1="543.30" y1="718.60" x2="548.30" y2="718.60" stroke="#222" stroke-width="1.3" />
<text x="541.6" y="721.8" font-family="Liberation Sans, sans-serif" font-weight="bold" font-size="9" text-anchor="end" fill="#222" >0</text>
<line x1="543.30" y1="684.15" x2="548.30" y2="684.15" stroke="#222" stroke-width="1.3" />
<text x="541.6" y="687.4" font-family="Liberation Sans, sans-serif" font-weight="bold" font-size="9" text-anchor="end" fill="#222" >1</text>
<line x1="543.30" y1="649.70" x2="548.30" y2="649.70" stroke="#222" stroke-width="1.3" />
<text x="541.6" y="652.9" font-family="Liberation Sans, sans-serif" font-weight="bold" font-size="9" text-anchor="end" fill="#222" >2</text>
<line x1="543.30" y1="615.25" x2="548.30" y2="615.25" stroke="#222" stroke-width="1.3" />
<text x="541.6" y="618.5" font-family="Liberation Sans, sans-serif" font-weight="bold" font-size="9" text-anchor="end" fill="#222" >3</text>
<line x1="543.30" y1="580.80" x2="548.30" y2="580.80" stroke="#222" stroke-width="1.3" />
<text x="541.6" y="584.0" font-family="Liberation Sans, sans-serif" font-weight="bold" font-size="9" text-anchor="end" fill="#222" >4</text>
<line x1="580.50" y1="718.60" x2="580.50" y2="722.30" stroke="#000" stroke-width="1.3" />
<line x1="630.20" y1="718.60" x2="630.20" y2="722.30" stroke="#000" stroke-width="1.3" />
<line x1="580.70" y1="572.90" x2="630.40" y2="572.90" stroke="#333" stroke-width="1.6" />
<path d="M598.90 563.10V568.30M596.65 564.40L601.15 567.00M596.65 567.00L601.15 564.40" stroke="#222" stroke-width="1.2" fill="none"/>
<path d="M606.20 563.10V568.30M603.95 564.40L608.45 567.00M603.95 567.00L608.45 564.40" stroke="#222" stroke-width="1.2" fill="none"/>
<path d="M613.50 563.10V568.30M611.25 564.40L615.75 567.00M611.25 567.00L615.75 564.40" stroke="#222" stroke-width="1.2" fill="none"/>
<text x="580.5" y="735.4" font-family="Liberation Sans, sans-serif" font-weight="bold" font-size="11.3" text-anchor="middle" fill="#000" >Normal</text>
<text x="630.2" y="735.4" font-family="Liberation Sans, sans-serif" font-weight="bold" font-size="11.3" text-anchor="middle" fill="#000" >GBM</text>
<text transform="translate(508.6,649.8) rotate(-90)" font-family="Liberation Sans, sans-serif" font-weight="bold" font-size="14" text-anchor="middle" textLength="189" lengthAdjust="spacingAndGlyphs">Relative expression of TSPAN4</text>
<text transform="translate(522.7,646.2) rotate(-90)" font-family="Liberation Sans, sans-serif" font-weight="bold" font-size="11.5" text-anchor="middle" textLength="81" lengthAdjust="spacingAndGlyphs">(GBM/ Normal )</text>
<rect x="72.7" y="776.2" width="206" height="196" fill="none" stroke="#333" stroke-width="1"/>
<line x1="68.30" y1="964.70" x2="72.70" y2="964.70" stroke="#333" stroke-width="1" />
<text transform="translate(62.3,964.7) rotate(-90)" font-family="Liberation Sans, sans-serif" font-size="10.5" text-anchor="middle" fill="#222">0.0</text>
<line x1="68.30" y1="928.46" x2="72.70" y2="928.46" stroke="#333" stroke-width="1" />
<text transform="translate(62.3,928.5) rotate(-90)" font-family="Liberation Sans, sans-serif" font-size="10.5" text-anchor="middle" fill="#222">0.2</text>
<line x1="68.30" y1="892.22" x2="72.70" y2="892.22" stroke="#333" stroke-width="1" />
<text transform="translate(62.3,892.2) rotate(-90)" font-family="Liberation Sans, sans-serif" font-size="10.5" text-anchor="middle" fill="#222">0.4</text>
<line x1="68.30" y1="855.98" x2="72.70" y2="855.98" stroke="#333" stroke-width="1" />
<text transform="translate(62.3,856.0) rotate(-90)" font-family="Liberation Sans, sans-serif" font-size="10.5" text-anchor="middle" fill="#222">0.6</text>
<line x1="68.30" y1="819.74" x2="72.70" y2="819.74" stroke="#333" stroke-width="1" />
<text transform="translate(62.3,819.7) rotate(-90)" font-family="Liberation Sans, sans-serif" font-size="10.5" text-anchor="middle" fill="#222">0.8</text>
<line x1="68.30" y1="783.50" x2="72.70" y2="783.50" stroke="#333" stroke-width="1" />
<text transform="translate(62.3,783.5) rotate(-90)" font-family="Liberation Sans, sans-serif" font-size="10.5" text-anchor="middle" fill="#222">1.0</text>
<line x1="72.90" y1="972.20" x2="72.90" y2="977.80" stroke="#333" stroke-width="1" />
<text x="72.9" y="992.4" font-family="Liberation Sans, sans-serif" font-size="10.5" text-anchor="middle" fill="#222" >0</text>
<line x1="116.90" y1="972.20" x2="116.90" y2="977.80" stroke="#333" stroke-width="1" />
<text x="116.9" y="992.4" font-family="Liberation Sans, sans-serif" font-size="10.5" text-anchor="middle" fill="#222" >20</text>
<line x1="160.90" y1="972.20" x2="160.90" y2="977.80" stroke="#333" stroke-width="1" />
<text x="160.9" y="992.4" font-family="Liberation Sans, sans-serif" font-size="10.5" text-anchor="middle" fill="#222" >40</text>
<line x1="204.90" y1="972.20" x2="204.90" y2="977.80" stroke="#333" stroke-width="1" />
<text x="204.9" y="992.4" font-family="Liberation Sans, sans-serif" font-size="10.5" text-anchor="middle" fill="#222" >60</text>
<line x1="248.90" y1="972.20" x2="248.90" y2="977.80" stroke="#333" stroke-width="1" />
<text x="248.9" y="992.4" font-family="Liberation Sans, sans-serif" font-size="10.5" text-anchor="middle" fill="#222" >80</text>
<text x="173.1" y="1006.8" font-family="Liberation Sans, sans-serif" font-size="13.5" text-anchor="middle" fill="#111" >Months</text>
<text transform="translate(45.6,869) rotate(-90)" font-family="Liberation Sans, sans-serif" font-size="12.5" text-anchor="middle" fill="#111">Percent survival</text>
<text x="175.5" y="772.4" font-family="Liberation Sans, sans-serif" font-size="13" text-anchor="middle" fill="#111" >Overall Survival</text>
<line x1="150.90" y1="785.20" x2="167.70" y2="785.20" stroke="#7FB2F2" stroke-width="1.5" />
<line x1="150.90" y1="795.70" x2="167.70" y2="795.70" stroke="#F08D93" stroke-width="1.5" />
<text x="171.2" y="789.8" font-family="Liberation Sans, sans-serif" font-size="11.7" text-anchor="start" fill="#1a1a1a" >Low TSPAN4 Group</text>
<text x="171.2" y="800.6" font-family="Liberation Sans, sans-serif" font-size="11.6" text-anchor="start" fill="#1a1a1a" >High TSPAN4 Group</text>
<text x="277.4" y="816.0" font-family="Liberation Sans, sans-serif" font-size="11.7" text-anchor="end" fill="#1a1a1a" >Logrank p=0.0091</text>
<text x="277.4" y="828.6" font-family="Liberation Sans, sans-serif" font-size="11.7" text-anchor="end" fill="#1a1a1a" >HR(high)=1.6</text>
<text x="277.4" y="841.2" font-family="Liberation Sans, sans-serif" font-size="11.7" text-anchor="end" fill="#1a1a1a" >p(HR)=0.0084</text>
<text x="277.4" y="853.8" font-family="Liberation Sans, sans-serif" font-size="11.7" text-anchor="end" fill="#1a1a1a" >n(high)=81</text>
<text x="277.4" y="866.4" font-family="Liberation Sans, sans-serif" font-size="11.7" text-anchor="end" fill="#1a1a1a" >n(low)=81</text>
<path d="M73.2,783.5 75.8,783.5 75.8,783.6 78.8,783.6 78.8,784.1 80.2,784.1 80.2,786.3 81.7,786.3 81.7,790.5 83.4,790.5 83.4,797.5 85.8,797.5 85.8,801.1 90.1,801.1 90.1,805.9 92.2,805.9 92.2,808.0 97.0,808.0 97.0,816.4 99.2,816.4 99.2,820.4 101.4,820.4 101.4,824.6 104.3,824.6 104.3,829.4 107.2,829.4 107.2,833.8 108.0,833.8 108.0,840.9 109.3,840.9 109.3,847.4 111.7,847.4 111.7,855.6 114.1,855.6 114.1,864.9 116.5,864.9 116.5,870.6 118.9,870.6 118.9,873.9 120.8,873.9 120.8,877.2 123.4,877.2 123.4,884.8 127.3,884.8 127.3,890.9 129.3,890.9 129.3,895.8 138.2,895.8 138.2,899.4 145.4,899.4 145.4,905.0 149.7,905.0 149.7,910.4 164.5,910.4 164.5,915.9 178.2,915.9 178.2,921.4 180.5,921.4 180.5,927.1 186.8,927.1 186.8,933.3 228.7,933.3 228.7,939.3 228.7,939.3" fill="none" stroke="#8ABCF5" stroke-width="1" stroke-dasharray="1.2 1.6"/>
<path d="M73.2,783.5 75.8,783.5 75.8,809.6 78.8,809.6 78.8,808.9 80.2,808.9 80.2,816.4 81.7,816.4 81.7,827.1 83.4,827.1 83.4,840.8 85.8,840.8 85.8,846.9 90.1,846.9 90.1,854.5 92.2,854.5 92.2,857.6 97.0,857.6 97.0,869.1 99.2,869.1 99.2,874.3 101.4,874.3 101.4,879.4 104.3,879.4 104.3,885.1 107.2,885.1 107.2,890.0 108.0,890.0 108.0,897.7 109.3,897.7 109.3,904.3 111.7,904.3 111.7,912.3 114.1,912.3 114.1,920.7 116.5,920.7 116.5,925.6 118.9,925.6 118.9,928.2 120.8,928.2 120.8,930.9 123.4,930.9 123.4,936.7 127.3,936.7 127.3,941.0 129.3,941.0 129.3,944.3 138.2,944.3 138.2,946.7 145.4,946.7 145.4,950.1 149.7,950.1 149.7,953.1 164.5,953.1 164.5,956.0 178.2,956.0 178.2,958.6 180.5,958.6 180.5,960.9 186.8,960.9 186.8,962.9 228.7,962.9 228.7,964.3 228.7,964.3" fill="none" stroke="#8ABCF5" stroke-width="1" stroke-dasharray="1.2 1.6"/>
<path d="M73.2,783.5 74.1,783.5 74.1,787.3 79.5,787.3 79.5,794.9 81.4,794.9 81.4,801.6 84.2,801.6 84.2,806.6 85.6,806.6 85.6,814.8 89.7,814.8 89.7,818.4 92.6,818.4 92.6,821.5 94.5,821.5 94.5,825.8 97.7,825.8 97.7,829.0 99.9,829.0 99.9,836.8 100.9,836.8 100.9,856.6 103.2,856.6 103.2,873.5 105.6,873.5 105.6,883.1 107.7,883.1 107.7,892.4 109.6,892.4 109.6,904.2 111.7,904.2 111.7,908.4 114.1,908.4 114.1,912.1 116.5,912.1 116.5,914.9 120.5,914.9 120.5,918.3 129.3,918.3 129.3,921.5 131.4,921.5 131.4,925.4 133.4,925.4 133.4,929.4 138.2,929.4 138.2,933.6 151.3,933.6 151.3,947.0" fill="none" stroke="#F3A0A5" stroke-width="1" stroke-dasharray="1.2 1.6"/>
<path d="M73.2,783.5 74.1,783.5 74.1,815.5 79.5,815.5 79.5,830.6 81.4,830.6 81.4,841.6 84.2,841.6 84.2,848.9 85.6,848.9 85.6,859.9 89.7,859.9 89.7,864.5 92.6,864.5 92.6,868.2 94.5,868.2 94.5,873.5 97.7,873.5 97.7,877.2 99.9,877.2 99.9,885.8 100.9,885.8 100.9,905.8 103.2,905.8 103.2,921.1 105.6,921.1 105.6,928.9 107.7,928.9 107.7,936.0 109.6,936.0 109.6,944.3 111.7,944.3 111.7,947.0 114.1,947.0 114.1,949.3 116.5,949.3 116.5,951.0 120.5,951.0 120.5,952.9 129.3,952.9 129.3,954.7 131.4,954.7 131.4,956.7 133.4,956.7 133.4,958.6 138.2,958.6 138.2,960.3 151.3,960.3 151.3,964.3" fill="none" stroke="#F3A0A5" stroke-width="1" stroke-dasharray="1.2 1.6"/>
<path d="M73.2,783.5 H74.1 V794.7 H79.5 V807.1 H81.4 V816.6 H84.2 V823.2 H85.6 V833.4 H89.7 V837.8 H92.6 V841.4 H94.5 V846.5 H97.7 V850.2 H99.9 V858.9 H100.9 V880.1 H103.2 V897.3 H105.6 V906.6 H107.7 V915.4 H109.6 V926.2 H111.7 V929.9 H114.1 V933.1 H116.5 V935.5 H120.5 V938.4 H129.3 V941.1 H131.4 V944.3 H133.4 V947.5 H138.2 V950.7 H151.3 V960.4 H180.7 V965.2" fill="none" stroke="#EE7C83" stroke-width="1.6"/>
<path d="M73.2,783.5 H75.8 V785.5 H78.8 V788.9 H80.2 V795.4 H81.7 V804.2 H83.4 V815.9 H85.8 V821.4 H90.1 V828.3 H92.2 V831.2 H97 V842.2 H99.2 V847.3 H101.4 V852.4 H104.3 V858.2 H107.2 V863.3 H108 V871.4 H109.3 V878.5 H111.7 V887.3 H114.1 V896.9 H116.5 V902.6 H118.9 V905.8 H120.8 V909 H123.4 V916.2 H127.3 V921.8 H129.3 V926.2 H138.2 V929.4 H145.4 V934.2 H149.7 V938.7 H164.5 V943.2 H178.2 V947.5 H180.5 V951.8 H186.8 V956.3 H228.7 V960.7 H271 V965.3" fill="none" stroke="#5F9EF0" stroke-width="1.6"/>
<text x="443.8" y="774.1" font-family="Liberation Sans, sans-serif" font-size="11" text-anchor="middle" fill="#222" textLength="192" lengthAdjust="spacingAndGlyphs">All WHO grade survival (primary glioma)</text>
<line x1="347.20" y1="786.00" x2="347.20" y2="963.90" stroke="#444" stroke-width="1.1" />
<line x1="346.70" y1="963.50" x2="542.60" y2="963.50" stroke="#444" stroke-width="1.1" />
<line x1="344.20" y1="792.60" x2="347.20" y2="792.60" stroke="#444" stroke-width="1" />
<text x="343.4" y="795.1" font-family="Liberation Sans, sans-serif" font-size="7.2" text-anchor="end" fill="#4D4D4D">1.00</text>
<line x1="344.20" y1="833.30" x2="347.20" y2="833.30" stroke="#444" stroke-width="1" />
<text x="343.4" y="835.8" font-family="Liberation Sans, sans-serif" font-size="7.2" text-anchor="end" fill="#4D4D4D">0.75</text>
<line x1="344.20" y1="874.00" x2="347.20" y2="874.00" stroke="#444" stroke-width="1" />
<text x="343.4" y="876.5" font-family="Liberation Sans, sans-serif" font-size="7.2" text-anchor="end" fill="#4D4D4D">0.50</text>
<line x1="344.20" y1="914.70" x2="347.20" y2="914.70" stroke="#444" stroke-width="1" />
<text x="343.4" y="917.2" font-family="Liberation Sans, sans-serif" font-size="7.2" text-anchor="end" fill="#4D4D4D">0.25</text>
<line x1="344.20" y1="955.40" x2="347.20" y2="955.40" stroke="#444" stroke-width="1" />
<text x="343.4" y="957.9" font-family="Liberation Sans, sans-serif" font-size="7.2" text-anchor="end" fill="#4D4D4D">0.00</text>
<line x1="355.40" y1="963.50" x2="355.40" y2="966.50" stroke="#444" stroke-width="1" />
<text x="355.4" y="974.1" font-family="Liberation Sans, sans-serif" font-size="7.2" text-anchor="middle" fill="#4D4D4D">0</text>
<line x1="387.00" y1="963.50" x2="387.00" y2="966.50" stroke="#444" stroke-width="1" />
<text x="387.0" y="974.1" font-family="Liberation Sans, sans-serif" font-size="7.2" text-anchor="middle" fill="#4D4D4D">1000</text>
<line x1="418.60" y1="963.50" x2="418.60" y2="966.50" stroke="#444" stroke-width="1" />
<text x="418.6" y="974.1" font-family="Liberation Sans, sans-serif" font-size="7.2" text-anchor="middle" fill="#4D4D4D">2000</text>
<line x1="450.20" y1="963.50" x2="450.20" y2="966.50" stroke="#444" stroke-width="1" />
<text x="450.2" y="974.1" font-family="Liberation Sans, sans-serif" font-size="7.2" text-anchor="middle" fill="#4D4D4D">3000</text>
<line x1="481.80" y1="963.50" x2="481.80" y2="966.50" stroke="#444" stroke-width="1" />
<text x="481.8" y="974.1" font-family="Liberation Sans, sans-serif" font-size="7.2" text-anchor="middle" fill="#4D4D4D">4000</text>
<line x1="513.40" y1="963.50" x2="513.40" y2="966.50" stroke="#444" stroke-width="1" />
<text x="513.4" y="974.1" font-family="Liberation Sans, sans-serif" font-size="7.2" text-anchor="middle" fill="#4D4D4D">5000</text>
<text transform="translate(326.4,874.8) rotate(-90)" font-family="Liberation Sans, sans-serif" font-size="8.4" text-anchor="middle" fill="#333" textLength="80" lengthAdjust="spacingAndGlyphs">Survival probability</text>
<text x="484.6" y="957.1" font-family="Liberation Sans, sans-serif" font-size="8.5" text-anchor="middle" fill="#222" textLength="52.5" lengthAdjust="spacingAndGlyphs">P = 9.19e-08</text>
<text x="434.1" y="1004.0" font-family="Liberation Sans, sans-serif" font-weight="bold" font-size="15.8" text-anchor="middle" fill="#000" >Time (Day)</text>
<path d="M356.0,793.3H360.1V796.8H364.2V800.4H366.2V803.5H368.2V806.6H370.3V810.7H371.3V812.7H375.0V814.0H379.5V816.8H381.6V819.3H383.6V821.9H386.6V823.9H387.6V826.5H388.7V829.0H389.7V832.6H390.7V836.2H392.2V838.8H393.8V841.3H397.9V844.4H407.1V844.4H408.1V846.4H412.2V847.4H413.2V851.5H422.4V852.6H425.1V853.5H427.1V856.5H429.2V859.6H430.2V863.2H431.2V866.8H435.3V869.9H437.4V872.9H451.7V872.9H453.7V876.0H456.8V880.1H462.9V881.1H466.0V884.8H508.0V884.8" fill="none" stroke="#56D0C4" stroke-width="1.5"/>
<path d="M356.6,793.3H357.3V796.0H358.0V798.6H358.7V801.3H359.4V803.9H360.1V806.6H361.0V809.7H361.8V812.7H362.7V815.8H363.1V818.4H363.5V821.1H364.0V823.7H364.4V826.4H364.8V829.0H365.3V832.1H365.8V835.1H366.3V838.2H366.8V841.3H367.4V844.1H368.1V847.0H368.7V849.8H369.3V852.6H369.8V855.1H370.3V857.7H370.8V860.2H371.3V862.8H372.9V866.3H374.4V869.9H375.1V872.5H375.9V875.0H376.6V877.5H377.4V880.1H379.4V883.2H381.5V886.3H383.1V888.8H384.6V891.4H387.7V893.4H389.2V897.0H390.7V900.6H395.8V902.6H397.4V905.2H398.9V907.7H404.0V908.8H405.0V911.8H411.2V913.9H439.4V913.8H440.4V915.4H456.8V915.4H457.8V917.9H462.9V919.9H471.1V920.9H472.1V923.0H508.0V923.0" fill="none" stroke="#E96C6C" stroke-width="1.5"/>
<path d="M473.0 882.2v5.2M470.7 884.8h4.6M479.0 882.2v5.2M476.7 884.8h4.6M482.0 882.2v5.2M479.7 884.8h4.6M485.0 882.2v5.2M482.7 884.8h4.6M489.0 882.2v5.2M486.7 884.8h4.6M491.0 882.2v5.2M488.7 884.8h4.6M494.0 882.2v5.2M491.7 884.8h4.6M496.0 882.2v5.2M493.7 884.8h4.6M499.0 882.2v5.2M496.7 884.8h4.6M501.0 882.2v5.2M498.7 884.8h4.6M506.0 882.2v5.2M503.7 884.8h4.6" fill="none" stroke="#56D0C4" stroke-width="1.1"/>
<path d="M444.5 870.3v5.2M442.2 872.9h4.6M447.5 870.3v5.2M445.2 872.9h4.6M449.0 870.3v5.2M446.7 872.9h4.6M452.0 870.3v5.2M449.7 872.9h4.6" fill="none" stroke="#56D0C4" stroke-width="1.1"/>
<path d="M459.5 877.9v5.2M457.2 880.5h4.6M461.0 877.9v5.2M458.7 880.5h4.6" fill="none" stroke="#56D0C4" stroke-width="1.1"/>
<path d="M360.0 790.9v5.2M357.7 793.5h4.6" fill="none" stroke="#56D0C4" stroke-width="1.1"/>
<path d="M372.0 810.4v5.2M369.7 813.0h4.6" fill="none" stroke="#56D0C4" stroke-width="1.1"/>
<path d="M375.0 811.9v5.2M372.7 814.5h4.6" fill="none" stroke="#56D0C4" stroke-width="1.1"/>
<path d="M378.0 813.4v5.2M375.7 816.0h4.6" fill="none" stroke="#56D0C4" stroke-width="1.1"/>
<path d="M384.0 819.4v5.2M381.7 822.0h4.6" fill="none" stroke="#56D0C4" stroke-width="1.1"/>
<path d="M386.0 821.3v5.2M383.7 823.9h4.6" fill="none" stroke="#56D0C4" stroke-width="1.1"/>
<path d="M391.0 833.4v5.2M388.7 836.0h4.6" fill="none" stroke="#56D0C4" stroke-width="1.1"/>
<path d="M393.0 837.4v5.2M390.7 840.0h4.6" fill="none" stroke="#56D0C4" stroke-width="1.1"/>
<path d="M398.0 841.8v5.2M395.7 844.4h4.6" fill="none" stroke="#56D0C4" stroke-width="1.1"/>
<path d="M400.5 841.8v5.2M398.2 844.4h4.6" fill="none" stroke="#56D0C4" stroke-width="1.1"/>
<path d="M475.5 920.4v5.2M473.2 923.0h4.6M480.0 920.4v5.2M477.7 923.0h4.6M482.0 920.4v5.2M479.7 923.0h4.6M484.5 920.4v5.2M482.2 923.0h4.6M487.0 920.4v5.2M484.7 923.0h4.6M491.0 920.4v5.2M488.7 923.0h4.6M496.0 920.4v5.2M493.7 923.0h4.6M500.0 920.4v5.2M497.7 923.0h4.6M507.5 920.4v5.2M505.2 923.0h4.6" fill="none" stroke="#E96C6C" stroke-width="1.1"/>
<path d="M441.0 912.8v5.2M438.7 915.4h4.6M445.0 912.8v5.2M442.7 915.4h4.6M448.5 912.8v5.2M446.2 915.4h4.6M451.5 912.8v5.2M449.2 915.4h4.6" fill="none" stroke="#E96C6C" stroke-width="1.1"/>
<path d="M431.0 911.2v5.2M428.7 913.8h4.6" fill="none" stroke="#E96C6C" stroke-width="1.1"/>
<path d="M413.5 911.3v5.2M411.2 913.9h4.6" fill="none" stroke="#E96C6C" stroke-width="1.1"/>
<path d="M360.1 804.0v5.2M357.8 806.6h4.6" fill="none" stroke="#E96C6C" stroke-width="1.1"/>
<path d="M362.7 813.2v5.2M360.4 815.8h4.6" fill="none" stroke="#E96C6C" stroke-width="1.1"/>
<path d="M368.9 849.4v5.2M366.6 852.0h4.6" fill="none" stroke="#E96C6C" stroke-width="1.1"/>
<path d="M371.5 859.4v5.2M369.2 862.0h4.6" fill="none" stroke="#E96C6C" stroke-width="1.1"/>
<path d="M373.0 861.4v5.2M370.7 864.0h4.6" fill="none" stroke="#E96C6C" stroke-width="1.1"/>
<path d="M375.0 867.4v5.2M372.7 870.0h4.6" fill="none" stroke="#E96C6C" stroke-width="1.1"/>
<path d="M377.4 876.4v5.2M375.1 879.0h4.6" fill="none" stroke="#E96C6C" stroke-width="1.1"/>
<path d="M394.0 900.0v5.2M391.7 902.6h4.6" fill="none" stroke="#E96C6C" stroke-width="1.1"/>
<path d="M396.5 900.0v5.2M394.2 902.6h4.6" fill="none" stroke="#E96C6C" stroke-width="1.1"/>
<path d="M411.2 911.3v5.2M408.9 913.9h4.6" fill="none" stroke="#E96C6C" stroke-width="1.1"/></svg></body></html>
